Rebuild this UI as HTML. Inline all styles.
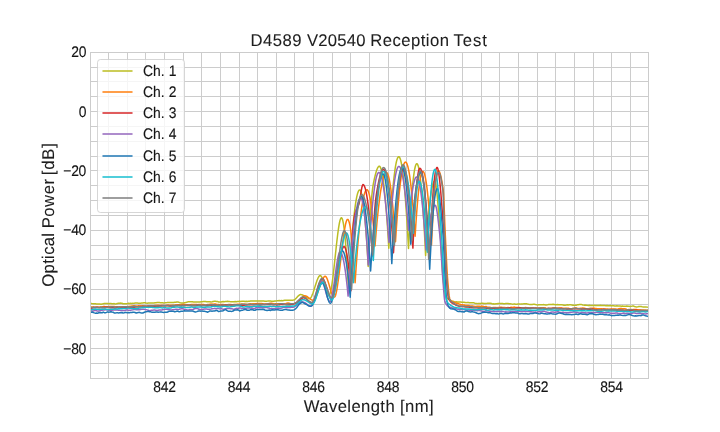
<!DOCTYPE html>
<html lang="en">
<head>
<meta charset="utf-8">
<title>D4589 V20540 Reception Test</title>
<style>
html,body{margin:0;padding:0;background:#ffffff;}
body{width:720px;height:432px;overflow:hidden;position:relative;font-family:"Liberation Sans", Arial, sans-serif;}
svg text{font-kerning:normal;}
</style>
</head>
<body>
<svg width="720" height="432" viewBox="0 0 720 432" style="display:block;position:absolute;left:0;top:0">
<rect x="0" y="0" width="720" height="432" fill="#ffffff"/>
<path d="M108.5 52.5V378.5M127.5 52.5V378.5M145.5 52.5V378.5M164.5 52.5V378.5M183.5 52.5V378.5M201.5 52.5V378.5M220.5 52.5V378.5M239.5 52.5V378.5M257.5 52.5V378.5M276.5 52.5V378.5M294.5 52.5V378.5M313.5 52.5V378.5M332.5 52.5V378.5M350.5 52.5V378.5M369.5 52.5V378.5M388.5 52.5V378.5M406.5 52.5V378.5M425.5 52.5V378.5M444.5 52.5V378.5M462.5 52.5V378.5M481.5 52.5V378.5M499.5 52.5V378.5M518.5 52.5V378.5M537.5 52.5V378.5M555.5 52.5V378.5M574.5 52.5V378.5M593.5 52.5V378.5M611.5 52.5V378.5M630.5 52.5V378.5M90.5 363.5H648.5M90.5 348.5H648.5M90.5 334.5H648.5M90.5 319.5H648.5M90.5 304.5H648.5M90.5 289.5H648.5M90.5 274.5H648.5M90.5 259.5H648.5M90.5 245.5H648.5M90.5 230.5H648.5M90.5 215.5H648.5M90.5 200.5H648.5M90.5 185.5H648.5M90.5 170.5H648.5M90.5 156.5H648.5M90.5 141.5H648.5M90.5 126.5H648.5M90.5 111.5H648.5M90.5 96.5H648.5M90.5 81.5H648.5M90.5 67.5H648.5" stroke="#cccccc" stroke-width="1" fill="none"/>
<clipPath id="c"><rect x="90.0" y="51.84" width="558.0" height="326.15999999999997"/></clipPath>
<g clip-path="url(#c)" fill="none" stroke-width="1.5" stroke-linejoin="round" stroke-linecap="butt">
<path d="M90.00 303.53L91.10 303.37L92.20 303.61L93.30 303.83L94.40 303.82L95.50 303.78L96.60 303.92L97.70 303.93L98.80 303.98L99.90 304.03L101.00 304.17L102.10 304.08L103.20 303.65L104.30 303.46L105.40 303.47L106.50 303.39L107.60 303.57L108.70 303.74L109.80 303.56L110.90 303.59L112.00 303.73L113.10 303.68L114.20 303.61L115.30 303.93L116.40 303.79L117.50 303.45L118.60 303.18L119.70 303.13L120.80 303.12L121.90 303.28L123.00 303.70L124.10 303.76L125.20 303.86L126.30 303.65L127.40 303.64L128.50 303.30L129.60 303.40L130.70 303.32L131.80 303.45L132.90 303.21L134.00 303.38L135.10 303.03L136.20 303.05L137.30 303.08L138.40 303.27L139.50 303.18L140.60 303.22L141.70 303.09L142.80 302.97L143.90 302.82L145.00 302.81L146.10 303.09L147.20 303.22L148.30 303.06L149.40 303.01L150.50 302.92L151.60 302.97L152.70 303.02L153.80 303.10L154.90 302.73L156.00 302.67L157.10 302.61L158.20 302.60L159.30 302.53L160.40 302.74L161.50 302.86L162.60 302.76L163.70 302.96L164.80 302.84L165.90 302.66L167.00 302.61L168.10 302.47L169.20 302.46L170.30 302.54L171.40 302.59L172.50 302.55L173.60 302.49L174.70 302.16L175.80 302.14L176.90 301.94L178.00 302.02L179.10 302.42L180.20 302.81L181.30 302.92L182.40 302.99L183.50 302.92L184.60 302.75L185.70 302.60L186.80 302.22L187.90 301.87L189.00 301.78L190.10 301.78L191.20 301.74L192.30 301.79L193.40 302.04L194.50 302.12L195.60 302.03L196.70 302.04L197.80 302.11L198.90 302.03L200.00 301.91L201.10 301.77L202.20 301.65L203.30 301.51L204.40 301.44L205.50 301.48L206.60 301.76L207.70 301.84L208.80 301.84L209.90 301.77L211.00 301.99L212.10 301.84L213.20 301.53L214.30 301.29L215.40 301.19L216.50 301.41L217.60 301.58L218.70 301.93L219.80 302.00L220.90 301.99L222.00 301.72L223.10 301.61L224.20 301.67L225.30 301.50L226.40 301.41L227.50 301.25L228.60 301.39L229.70 301.54L230.80 301.66L231.90 301.73L233.00 301.63L234.10 301.68L235.20 301.55L236.30 301.67L237.40 301.43L238.50 301.42L239.60 301.17L240.70 301.45L241.80 301.33L242.90 301.32L244.00 301.23L245.10 301.45L246.20 301.26L247.30 301.50L248.40 301.24L249.50 301.22L250.60 301.10L251.70 301.08L252.80 300.94L253.90 301.04L255.00 301.10L256.10 301.03L257.20 301.00L258.30 301.09L259.40 301.04L260.50 301.02L261.60 301.07L262.70 301.08L263.80 301.08L264.90 301.19L266.00 301.16L267.10 301.13L268.20 301.00L269.30 300.93L270.40 301.03L271.50 301.22L272.60 301.35L273.70 301.32L274.80 301.06L275.90 300.96L277.00 300.85L278.10 300.71L279.20 300.57L280.30 300.72L281.40 300.62L282.50 300.66L283.60 300.43L284.70 300.27L285.80 300.31L286.90 300.36L288.00 300.26L289.10 300.24L290.20 300.31L291.30 300.26L292.40 300.23L293.50 300.05L294.00 299.93L294.33 299.79L294.66 299.59L294.99 299.32L295.32 299.01L295.65 298.68L295.98 298.35L296.31 298.02L296.64 297.67L296.97 297.31L297.30 296.94L297.63 296.58L297.96 296.23L298.29 295.92L298.62 295.63L298.95 295.37L299.28 295.11L299.61 294.89L299.94 294.72L300.27 294.60L300.60 294.55L300.80 294.55L300.93 294.57L301.26 294.62L301.59 294.67L301.92 294.75L302.25 294.86L302.58 295.02L302.91 295.20L303.24 295.41L303.57 295.61L303.90 295.81L304.23 296.02L304.56 296.24L304.89 296.43L305.22 296.63L305.55 296.82L305.88 297.05L306.21 297.28L306.54 297.49L306.87 297.69L307.20 297.86L307.53 298.01L307.86 298.16L308.19 298.36L308.52 298.53L308.85 298.68L309.18 298.72L309.50 298.72L309.51 298.72L309.84 298.63L310.17 298.43L310.50 298.13L310.83 297.73L311.16 297.21L311.49 296.56L311.82 295.83L312.15 295.04L312.48 294.25L312.81 293.42L313.14 292.53L313.47 291.57L313.80 290.55L314.13 289.51L314.46 288.45L314.79 287.40L315.12 286.34L315.45 285.28L315.78 284.22L316.11 283.18L316.44 282.18L316.77 281.22L317.10 280.31L317.43 279.46L317.76 278.67L318.09 277.95L318.42 277.31L318.75 276.76L319.08 276.31L319.41 275.96L319.74 275.72L320.07 275.61L320.20 275.60L320.40 275.63L320.73 275.81L321.06 276.13L321.39 276.59L321.72 277.17L322.05 277.86L322.38 278.64L322.71 279.51L323.04 280.46L323.37 281.46L323.70 282.51L324.03 283.60L324.36 284.70L324.69 285.80L325.02 286.89L325.35 287.94L325.68 288.98L326.01 289.96L326.34 290.90L326.67 291.75L327.00 292.52L327.33 293.19L327.66 293.78L327.99 294.35L328.32 294.80L328.65 295.12L328.98 295.19L329.00 295.18L329.31 295.00L329.64 294.51L329.97 293.75L330.30 292.72L330.63 291.45L330.96 289.95L331.29 288.27L331.62 286.37L331.95 284.27L332.28 281.98L332.61 279.50L332.94 276.88L333.27 274.13L333.60 271.29L333.93 268.35L334.26 265.36L334.59 262.31L334.92 259.23L335.25 256.13L335.58 253.04L335.91 249.96L336.24 246.93L336.57 243.95L336.90 241.04L337.23 238.23L337.56 235.52L337.89 232.93L338.22 230.49L338.55 228.21L338.88 226.11L339.21 224.21L339.54 222.51L339.87 221.05L340.20 219.84L340.53 218.89L340.86 218.23L341.19 217.87L341.40 217.80L341.52 217.82L341.85 218.09L342.18 218.68L342.51 219.59L342.84 220.81L343.17 222.35L343.50 224.20L343.83 226.37L344.16 228.86L344.49 231.66L344.82 234.78L345.15 238.22L345.48 241.97L345.81 246.04L346.14 250.43L346.47 255.13L346.80 260.14L347.13 265.48L347.46 271.13L347.79 277.09L348.12 283.37L348.45 290.00L348.50 291.03L348.78 286.02L349.11 280.29L349.44 274.74L349.77 269.37L350.10 264.18L350.43 259.16L350.76 254.32L351.09 249.65L351.42 245.16L351.75 240.84L352.08 236.70L352.41 232.73L352.74 228.94L353.07 225.33L353.40 221.89L353.73 218.63L354.06 215.54L354.39 212.63L354.72 209.89L355.05 207.33L355.38 204.94L355.71 202.73L356.04 200.70L356.37 198.84L356.70 197.15L357.03 195.65L357.36 194.31L357.69 193.16L358.02 192.17L358.35 191.37L358.68 190.74L359.01 190.28L359.34 190.00L359.67 189.90L359.70 189.90L360.00 190.00L360.33 190.32L360.66 190.88L360.99 191.66L361.32 192.68L361.65 193.93L361.98 195.40L362.31 197.11L362.64 199.05L362.97 201.22L363.30 203.62L363.63 206.25L363.96 209.12L364.29 212.21L364.62 215.53L364.95 219.08L365.28 222.87L365.61 226.88L365.94 231.13L366.27 235.60L366.60 240.31L366.93 245.25L367.26 250.42L367.59 255.81L367.92 261.44L368.20 266.40L368.25 264.87L368.58 255.26L368.91 246.40L369.24 238.26L369.57 230.81L369.90 224.02L370.23 217.85L370.56 212.27L370.89 207.24L371.22 202.73L371.55 198.71L371.88 195.13L372.21 191.98L372.54 189.20L372.87 186.78L373.20 184.67L373.53 182.84L373.70 182.00L373.86 181.24L374.19 179.71L374.52 178.23L374.85 176.81L375.18 175.45L375.51 174.16L375.84 172.94L376.17 171.80L376.50 170.76L376.83 169.80L377.16 168.95L377.49 168.19L377.82 167.55L378.15 167.03L378.48 166.63L378.81 166.35L379.14 166.22L379.30 166.20L379.47 166.23L379.80 166.43L380.13 166.83L380.46 167.42L380.79 168.22L381.12 169.21L381.45 170.41L381.78 171.79L382.11 173.38L382.44 175.17L382.77 177.15L383.10 179.34L383.43 181.72L383.76 184.30L384.09 187.07L384.42 190.05L384.75 193.22L385.08 196.59L385.41 200.16L385.74 203.93L386.07 207.89L386.40 212.06L386.73 216.42L387.06 220.98L387.39 225.74L387.72 230.69L388.05 235.85L388.38 241.20L388.71 246.75L388.80 248.30L389.04 243.93L389.37 238.11L389.70 232.48L390.03 227.05L390.36 221.83L390.69 216.81L391.02 211.99L391.35 207.37L391.68 202.95L392.01 198.73L392.34 194.72L392.67 190.90L393.00 187.29L393.33 183.88L393.66 180.67L393.99 177.66L394.32 174.86L394.65 172.25L394.98 169.85L395.31 167.65L395.64 165.65L395.97 163.85L396.30 162.25L396.63 160.86L396.96 159.66L397.29 158.67L397.62 157.88L397.95 157.29L398.28 156.90L398.61 156.72L398.75 156.70L398.94 156.73L399.27 156.96L399.60 157.40L399.93 158.04L400.26 158.90L400.59 159.97L400.92 161.25L401.25 162.74L401.58 164.43L401.91 166.34L402.24 168.46L402.57 170.79L402.90 173.33L403.23 176.08L403.56 179.04L403.89 182.21L404.22 185.59L404.55 189.19L404.88 192.99L405.21 197.00L405.54 201.22L405.87 205.65L406.20 210.30L406.53 215.15L406.86 220.21L407.19 225.49L407.52 230.97L407.85 236.67L408.18 242.57L408.50 248.50L408.51 248.30L408.84 241.69L409.17 235.36L409.50 229.30L409.83 223.50L410.16 217.97L410.49 212.71L410.82 207.72L411.15 202.99L411.48 198.54L411.81 194.35L412.14 190.43L412.47 186.78L412.80 183.40L413.13 180.28L413.46 177.43L413.79 174.85L414.12 172.54L414.45 170.50L414.78 168.72L415.11 167.22L415.44 165.98L415.77 165.01L416.10 164.30L416.43 163.87L416.76 163.70L416.80 163.70L417.09 163.80L417.42 164.16L417.75 164.77L418.08 165.64L418.41 166.77L418.74 168.16L419.07 169.80L419.40 171.70L419.73 173.87L420.06 176.28L420.39 178.96L420.72 181.90L421.05 185.09L421.38 188.54L421.71 192.25L422.04 196.21L422.37 200.44L422.70 204.92L423.03 209.66L423.36 214.66L423.69 219.91L424.02 225.43L424.35 231.20L424.68 237.23L425.01 243.52L425.34 250.06L425.60 255.40L425.67 254.27L426.00 249.07L426.33 244.06L426.66 239.24L426.99 234.62L427.32 230.18L427.65 225.94L427.98 221.89L428.31 218.02L428.64 214.35L428.97 210.88L429.30 207.59L429.63 204.50L429.96 201.59L430.29 198.88L430.62 196.36L430.95 194.03L431.28 191.89L431.61 189.94L431.94 188.19L432.27 186.63L432.60 185.25L432.93 184.07L433.26 183.08L433.59 182.29L433.92 181.68L434.25 181.27L434.58 181.04L434.80 181.00L434.91 181.04L435.24 181.58L435.57 182.74L435.90 184.45L436.23 186.67L436.56 189.33L436.89 192.40L437.22 195.82L437.55 199.54L437.88 203.49L438.21 207.64L438.54 211.93L438.87 216.31L439.20 220.72L439.53 225.11L439.86 229.43L440.19 233.64L440.30 235.00L440.52 237.90L440.85 242.89L441.18 248.41L441.51 254.24L441.84 260.13L442.17 265.85L442.50 271.16L442.83 275.83L443.16 279.61L443.20 280.00L443.49 282.74L443.82 285.78L444.15 288.60L444.48 291.12L444.81 293.22L445.14 294.81L445.47 295.77L445.50 295.82L445.80 296.29L446.13 296.75L446.46 297.18L446.79 297.61L447.12 297.99L447.45 298.33L447.78 298.65L448.11 298.93L448.44 299.19L448.77 299.46L449.10 299.75L449.43 300.03L449.76 300.27L450.00 300.38L450.09 300.42L450.42 300.55L450.75 300.69L451.08 300.78L451.41 300.86L451.74 300.93L453.00 301.14L454.10 301.66L455.20 301.88L456.30 301.87L457.40 301.89L458.50 301.90L459.60 301.98L460.70 301.91L461.80 302.19L462.90 302.23L464.00 302.27L465.10 302.40L466.20 302.63L467.30 302.41L468.40 302.54L469.50 302.72L470.60 302.85L471.70 302.80L472.80 302.87L473.90 302.84L475.00 303.28L476.10 303.52L477.20 303.62L478.30 303.46L479.40 303.54L480.50 303.42L481.60 303.22L482.70 303.18L483.80 303.41L484.90 303.39L486.00 303.39L487.10 303.37L488.20 303.31L489.30 303.23L490.40 303.30L491.50 303.55L492.60 303.90L493.70 303.87L494.80 303.89L495.90 303.79L497.00 303.70L498.10 303.51L499.20 303.55L500.30 303.60L501.40 303.56L502.50 303.52L503.60 303.76L504.70 303.67L505.80 303.53L506.90 303.50L508.00 303.51L509.10 303.74L510.20 303.73L511.30 303.87L512.40 304.14L513.50 304.10L514.60 303.87L515.70 304.24L516.80 304.20L517.90 304.08L519.00 304.04L520.10 304.12L521.20 303.91L522.30 303.89L523.40 303.85L524.50 303.77L525.60 303.81L526.70 303.84L527.80 304.12L528.90 304.31L530.00 304.47L531.10 304.47L532.20 304.50L533.30 304.35L534.40 304.26L535.50 304.56L536.60 304.77L537.70 304.88L538.80 304.77L539.90 304.72L541.00 304.74L542.10 304.80L543.20 304.62L544.30 304.74L545.40 304.89L546.50 304.96L547.60 304.81L548.70 304.61L549.80 304.53L550.90 304.55L552.00 304.48L553.10 304.32L554.20 304.47L555.30 304.65L556.40 304.63L557.50 304.55L558.60 304.65L559.70 304.78L560.80 304.84L561.90 304.87L563.00 304.90L564.10 305.17L565.20 305.15L566.30 305.06L567.40 304.83L568.50 304.93L569.60 304.71L570.70 304.79L571.80 304.91L572.90 305.17L574.00 305.25L575.10 305.34L576.20 305.27L577.30 304.82L578.40 304.69L579.50 304.52L580.60 304.56L581.70 304.62L582.80 304.98L583.90 305.13L585.00 305.10L586.10 305.16L587.20 305.36L588.30 305.46L589.40 305.25L590.50 305.41L591.60 305.49L592.70 305.45L593.80 305.36L594.90 305.47L596.00 305.47L597.10 305.56L598.20 305.48L599.30 305.42L600.40 305.34L601.50 305.58L602.60 305.41L603.70 305.55L604.80 305.50L605.90 305.64L607.00 305.50L608.10 305.84L609.20 305.71L610.30 305.57L611.40 305.84L612.50 305.82L613.60 305.75L614.70 305.93L615.80 305.95L616.90 305.78L618.00 305.92L619.10 306.07L620.20 306.03L621.30 306.15L622.40 306.01L623.50 306.17L624.60 306.30L625.70 306.22L626.80 306.10L627.90 306.30L629.00 306.34L630.10 306.44L631.20 306.37L632.30 306.11L633.40 306.08L634.50 306.44L635.60 306.73L636.70 306.90L637.80 306.79L638.90 306.60L640.00 306.59L641.10 306.61L642.20 306.82L643.30 306.99L644.40 306.93L645.50 307.00L646.60 307.11L647.70 307.13L648.00 307.24" stroke="#bcbd22"/>
<path d="M90.00 307.18L91.10 306.99L92.20 307.00L93.30 306.99L94.40 307.33L95.50 307.28L96.60 307.26L97.70 307.24L98.80 307.34L99.90 306.91L101.00 306.88L102.10 306.76L103.20 306.61L104.30 306.41L105.40 306.66L106.50 306.74L107.60 306.71L108.70 306.70L109.80 306.60L110.90 306.58L112.00 306.39L113.10 306.47L114.20 306.45L115.30 306.67L116.40 306.71L117.50 306.99L118.60 307.08L119.70 306.96L120.80 306.91L121.90 306.88L123.00 306.75L124.10 306.64L125.20 306.73L126.30 306.89L127.40 306.80L128.50 306.54L129.60 306.37L130.70 306.36L131.80 306.07L132.90 306.09L134.00 305.80L135.10 306.06L136.20 306.03L137.30 306.21L138.40 305.82L139.50 306.10L140.60 305.87L141.70 305.92L142.80 305.80L143.90 305.94L145.00 306.10L146.10 306.21L147.20 306.08L148.30 306.02L149.40 306.22L150.50 305.98L151.60 305.99L152.70 305.97L153.80 305.71L154.90 305.36L156.00 305.43L157.10 305.15L158.20 305.13L159.30 305.31L160.40 305.43L161.50 305.36L162.60 305.71L163.70 305.85L164.80 305.87L165.90 305.56L167.00 305.31L168.10 305.05L169.20 305.18L170.30 305.27L171.40 305.32L172.50 305.25L173.60 305.35L174.70 305.30L175.80 305.02L176.90 305.00L178.00 304.86L179.10 304.77L180.20 304.64L181.30 304.71L182.40 304.52L183.50 304.62L184.60 304.57L185.70 304.72L186.80 304.69L187.90 305.06L189.00 305.08L190.10 304.95L191.20 304.57L192.30 304.60L193.40 304.53L194.50 304.49L195.60 304.51L196.70 304.46L197.80 304.74L198.90 304.53L200.00 304.60L201.10 304.54L202.20 304.61L203.30 304.45L204.40 304.81L205.50 304.88L206.60 304.77L207.70 304.59L208.80 304.52L209.90 304.35L211.00 303.97L212.10 304.12L213.20 304.20L214.30 304.08L215.40 304.10L216.50 304.28L217.60 304.38L218.70 304.42L219.80 304.63L220.90 304.58L222.00 304.52L223.10 304.62L224.20 304.72L225.30 304.85L226.40 304.75L227.50 304.63L228.60 304.38L229.70 304.43L230.80 304.53L231.90 304.68L233.00 304.64L234.10 304.48L235.20 304.48L236.30 304.47L237.40 304.20L238.50 304.22L239.60 304.30L240.70 304.18L241.80 304.08L242.90 304.32L244.00 304.26L245.10 304.18L246.20 304.29L247.30 304.51L248.40 304.25L249.50 303.94L250.60 303.81L251.70 303.94L252.80 303.76L253.90 303.72L255.00 303.81L256.10 303.74L257.20 303.59L258.30 303.54L259.40 303.56L260.50 303.46L261.60 303.57L262.70 303.67L263.80 304.14L264.90 303.97L266.00 304.03L267.10 304.06L268.20 304.03L269.30 303.54L270.40 303.31L271.50 303.27L272.60 303.46L273.70 303.74L274.80 303.87L275.90 303.81L277.00 303.63L278.10 303.68L279.20 303.75L280.30 303.78L281.40 303.99L282.50 304.01L283.60 303.95L284.70 303.87L285.80 303.67L286.90 303.16L288.00 302.93L289.10 303.15L290.20 303.47L291.30 303.66L292.40 303.63L293.50 303.75L294.00 303.61L294.33 303.52L294.66 303.42L294.99 303.28L295.32 303.15L295.65 303.01L295.98 302.93L296.00 302.93L296.31 302.84L296.64 302.69L296.97 302.54L297.30 302.39L297.63 302.20L297.96 301.97L298.29 301.71L298.62 301.42L298.95 301.11L299.28 300.79L299.61 300.47L299.94 300.13L300.27 299.82L300.60 299.52L300.93 299.23L301.26 298.91L301.59 298.42L301.92 297.96L302.25 297.50L302.58 297.10L302.91 296.72L303.24 296.37L303.57 296.11L303.90 295.92L304.23 295.78L304.56 295.69L304.89 295.71L305.20 295.77L305.22 295.78L305.55 295.90L305.88 295.98L306.21 296.09L306.54 296.23L306.87 296.42L307.20 296.64L307.53 296.89L307.86 297.15L308.19 297.37L308.52 297.61L308.85 297.86L309.18 298.08L309.51 298.30L309.84 298.51L310.17 298.76L310.50 299.06L310.83 299.34L311.16 299.59L311.49 299.78L311.82 299.93L312.15 300.05L312.48 300.17L312.81 300.26L313.14 300.30L313.20 300.30L313.47 300.23L313.80 300.02L314.13 299.72L314.46 299.35L314.79 299.04L315.12 298.65L315.45 298.19L315.78 297.55L316.11 296.83L316.44 296.05L316.77 295.22L317.10 294.35L317.43 293.44L317.76 292.50L318.09 291.53L318.42 290.55L318.75 289.56L319.08 288.62L319.41 287.67L319.74 286.72L320.07 285.76L320.40 284.79L320.73 283.85L321.06 282.94L321.39 282.07L321.72 281.23L322.05 280.43L322.38 279.68L322.71 278.99L323.04 278.37L323.37 277.82L323.70 277.34L324.03 276.95L324.36 276.64L324.69 276.43L325.02 276.32L325.20 276.30L325.35 276.32L325.68 276.47L326.01 276.78L326.34 277.23L326.67 277.81L327.00 278.50L327.33 279.30L327.66 280.19L327.99 281.15L328.32 282.18L328.65 283.27L328.98 284.40L329.31 285.55L329.64 286.71L329.97 287.87L330.30 289.00L330.63 290.11L330.96 291.17L331.29 292.14L331.62 293.05L331.95 293.87L332.28 294.67L332.61 295.38L332.94 296.00L333.27 296.50L333.60 296.86L333.93 297.07L334.20 297.12L334.26 297.14L334.59 297.07L334.92 296.74L335.25 296.15L335.58 295.23L335.91 294.07L336.24 292.68L336.57 291.07L336.90 289.26L337.23 287.30L337.56 285.20L337.89 282.99L338.22 280.63L338.55 278.15L338.88 275.57L339.21 272.91L339.54 270.18L339.87 267.38L340.20 264.55L340.53 261.68L340.86 258.80L341.19 255.92L341.52 253.05L341.85 250.20L342.18 247.40L342.51 244.65L342.84 241.96L343.17 239.36L343.50 236.86L343.83 234.47L344.16 232.20L344.49 230.07L344.82 228.09L345.15 226.28L345.48 224.65L345.81 223.21L346.14 221.98L346.47 220.97L346.80 220.20L347.13 219.68L347.46 219.43L347.60 219.40L347.79 219.44L348.12 219.70L348.45 220.21L348.78 220.97L349.11 221.97L349.44 223.22L349.77 224.71L350.10 226.44L350.43 228.43L350.76 230.65L351.09 233.13L351.42 235.85L351.75 238.81L352.08 242.02L352.41 245.48L352.74 249.18L353.07 253.12L353.40 257.32L353.73 261.75L354.06 266.44L354.39 271.36L354.72 276.54L355.05 281.96L355.10 282.81L355.38 278.43L355.71 273.42L356.04 268.56L356.37 263.84L356.70 259.26L357.03 254.84L357.36 250.55L357.69 246.42L358.02 242.42L358.35 238.58L358.68 234.88L359.01 231.32L359.34 227.91L359.67 224.65L360.00 221.53L360.33 218.56L360.66 215.73L360.99 213.05L361.32 210.52L361.65 208.13L361.98 205.89L362.31 203.79L362.64 201.83L362.97 200.03L363.30 198.37L363.63 196.85L363.96 195.48L364.29 194.25L364.62 193.18L364.95 192.24L365.28 191.45L365.61 190.81L365.94 190.32L366.27 189.97L366.60 189.76L366.90 189.70L366.93 189.70L367.26 189.81L367.59 190.11L367.92 190.59L368.25 191.26L368.58 192.12L368.91 193.17L369.24 194.40L369.57 195.82L369.90 197.42L370.23 199.22L370.56 201.19L370.89 203.36L371.22 205.71L371.55 208.25L371.88 210.98L372.21 213.90L372.54 217.00L372.87 220.28L373.20 223.76L373.53 227.42L373.86 231.27L374.19 235.30L374.52 239.53L374.85 243.93L375.00 246.00L375.18 243.70L375.51 239.57L375.84 235.57L376.17 231.69L376.50 227.93L376.83 224.30L377.16 220.79L377.49 217.40L377.82 214.13L378.15 210.99L378.48 207.98L378.81 205.08L379.14 202.31L379.47 199.66L379.80 197.14L380.13 194.73L380.46 192.45L380.79 190.30L381.12 188.27L381.45 186.36L381.78 184.57L382.11 182.91L382.44 181.37L382.77 179.95L383.10 178.66L383.43 177.49L383.76 176.44L384.09 175.52L384.42 174.72L384.75 174.04L385.08 173.49L385.41 173.05L385.74 172.75L386.07 172.56L386.40 172.50L386.40 172.50L386.73 172.59L387.06 172.86L387.39 173.32L387.72 173.96L388.05 174.78L388.38 175.78L388.71 176.96L389.04 178.32L389.37 179.87L389.70 181.60L390.03 183.51L390.36 185.60L390.69 187.88L391.02 190.34L391.35 192.98L391.68 195.80L392.01 198.80L392.34 201.98L392.67 205.35L393.00 208.90L393.33 212.63L393.66 216.54L393.99 220.64L394.32 224.92L394.65 229.38L394.98 234.02L395.31 238.84L395.50 241.70L395.64 239.49L395.97 234.39L396.30 229.47L396.63 224.73L396.96 220.15L397.29 215.75L397.62 211.53L397.95 207.47L398.28 203.59L398.61 199.89L398.94 196.35L399.27 193.00L399.60 189.81L399.93 186.80L400.26 183.96L400.59 181.29L400.92 178.80L401.25 176.48L401.58 174.33L401.91 172.36L402.24 170.56L402.57 168.93L402.90 167.48L403.23 166.20L403.56 165.10L403.89 164.16L404.22 163.40L404.55 162.82L404.88 162.41L405.21 162.17L405.50 162.10L405.54 162.10L405.87 162.21L406.20 162.49L406.53 162.95L406.86 163.59L407.19 164.40L407.52 165.39L407.85 166.55L408.18 167.88L408.51 169.39L408.84 171.08L409.17 172.94L409.50 174.98L409.83 177.20L410.16 179.58L410.49 182.15L410.82 184.89L411.15 187.80L411.48 190.89L411.81 194.16L412.14 197.60L412.47 201.21L412.80 205.00L413.13 208.97L413.46 213.11L413.79 217.43L414.12 221.92L414.45 226.59L414.78 231.44L415.10 236.30L415.11 236.13L415.44 230.77L415.77 225.65L416.10 220.75L416.43 216.09L416.76 211.65L417.09 207.45L417.42 203.49L417.75 199.75L418.08 196.24L418.41 192.97L418.74 189.93L419.07 187.12L419.40 184.55L419.73 182.20L420.06 180.09L420.39 178.21L420.72 176.56L421.05 175.15L421.38 173.96L421.71 173.01L422.04 172.29L422.37 171.80L422.70 171.54L422.90 171.50L423.03 171.52L423.36 171.71L423.69 172.12L424.02 172.75L424.35 173.59L424.68 174.65L425.01 175.92L425.34 177.42L425.67 179.13L426.00 181.05L426.33 183.19L426.66 185.55L426.99 188.12L427.32 190.91L427.65 193.92L427.98 197.15L428.31 200.59L428.64 204.24L428.97 208.12L429.30 212.21L429.63 216.51L429.96 221.03L430.29 225.77L430.62 230.73L430.95 235.90L431.28 241.29L431.50 245.00L431.61 242.61L431.94 235.68L432.27 229.10L432.60 222.88L432.93 217.00L433.26 211.47L433.59 206.29L433.92 201.47L434.25 196.99L434.58 192.87L434.91 189.09L435.24 185.67L435.57 182.59L435.90 179.87L436.23 177.49L436.56 175.47L436.89 173.80L437.22 172.48L437.55 171.51L437.88 170.88L438.21 170.61L438.30 170.60L438.54 170.65L438.87 170.90L439.20 171.33L439.53 171.95L439.86 172.76L440.19 173.74L440.52 174.89L440.85 176.21L441.18 177.69L441.51 179.33L441.84 181.12L442.17 183.06L442.50 185.14L442.83 187.36L443.16 189.71L443.20 190.00L443.49 193.23L443.82 199.13L444.15 206.68L444.48 215.11L444.81 223.67L445.14 231.60L445.30 235.00L445.47 238.45L445.80 245.36L446.13 252.34L446.46 259.19L446.79 265.69L447.12 271.62L447.45 276.76L447.70 280.00L447.78 280.94L448.11 284.84L448.44 288.66L448.77 292.17L449.10 295.16L449.43 297.50L449.76 299.03L450.00 299.58L450.09 299.68L450.42 300.01L450.75 300.30L451.08 300.65L451.41 300.98L451.74 301.28L453.00 301.88L454.10 302.11L455.20 302.52L456.30 303.19L457.40 303.29L458.50 303.68L459.60 304.08L460.70 304.52L461.80 304.66L462.90 304.86L464.00 304.93L465.10 305.27L466.20 305.48L467.30 305.45L468.40 305.41L469.50 305.73L470.60 305.95L471.70 306.02L472.80 306.10L473.90 306.37L475.00 306.39L476.10 306.58L477.20 306.35L478.30 306.33L479.40 306.33L480.50 306.46L481.60 306.18L482.70 306.32L483.80 306.55L484.90 306.69L486.00 306.56L487.10 306.91L488.20 307.17L489.30 307.29L490.40 307.37L491.50 307.65L492.60 307.62L493.70 307.52L494.80 307.49L495.90 307.54L497.00 307.74L498.10 307.61L499.20 307.46L500.30 307.28L501.40 307.31L502.50 307.50L503.60 307.46L504.70 307.48L505.80 307.80L506.90 307.79L508.00 307.58L509.10 307.70L510.20 307.57L511.30 307.31L512.40 307.41L513.50 307.21L514.60 307.12L515.70 307.37L516.80 307.54L517.90 307.58L519.00 307.53L520.10 307.72L521.20 307.72L522.30 307.82L523.40 307.70L524.50 307.73L525.60 307.48L526.70 307.65L527.80 307.74L528.90 308.04L530.00 308.24L531.10 308.49L532.20 308.29L533.30 308.33L534.40 308.25L535.50 308.05L536.60 308.01L537.70 308.10L538.80 308.09L539.90 308.04L541.00 307.70L542.10 307.74L543.20 307.69L544.30 307.94L545.40 308.07L546.50 308.44L547.60 308.44L548.70 308.52L549.80 308.69L550.90 308.60L552.00 308.37L553.10 308.02L554.20 308.07L555.30 307.67L556.40 307.91L557.50 308.12L558.60 308.01L559.70 307.93L560.80 308.06L561.90 308.18L563.00 308.14L564.10 308.19L565.20 308.18L566.30 308.24L567.40 308.21L568.50 308.30L569.60 308.69L570.70 308.89L571.80 308.76L572.90 308.47L574.00 308.26L575.10 308.11L576.20 308.03L577.30 308.55L578.40 308.58L579.50 308.55L580.60 308.19L581.70 308.22L582.80 307.89L583.90 308.17L585.00 308.36L586.10 308.63L587.20 308.69L588.30 308.71L589.40 308.49L590.50 308.29L591.60 308.19L592.70 308.29L593.80 308.25L594.90 308.37L596.00 308.56L597.10 308.78L598.20 308.80L599.30 308.80L600.40 308.78L601.50 308.79L602.60 308.91L603.70 309.01L604.80 309.18L605.90 309.06L607.00 309.02L608.10 309.11L609.20 309.14L610.30 309.05L611.40 309.03L612.50 309.11L613.60 309.04L614.70 308.93L615.80 308.99L616.90 309.14L618.00 309.04L619.10 308.72L620.20 308.59L621.30 308.57L622.40 308.73L623.50 308.78L624.60 308.70L625.70 309.01L626.80 309.38L627.90 309.70L629.00 309.56L630.10 309.59L631.20 309.56L632.30 309.76L633.40 309.47L634.50 309.48L635.60 309.39L636.70 309.61L637.80 309.67L638.90 309.99L640.00 309.81L641.10 309.94L642.20 309.97L643.30 309.99L644.40 309.96L645.50 310.15L646.60 310.24L647.70 310.14L648.00 310.05" stroke="#ff7f0e"/>
<path d="M90.00 308.24L91.10 308.19L92.20 307.97L93.30 307.53L94.40 307.66L95.50 307.60L96.60 307.25L97.70 307.23L98.80 307.66L99.90 307.57L101.00 307.45L102.10 307.80L103.20 307.43L104.30 307.18L105.40 307.27L106.50 307.23L107.60 307.21L108.70 307.37L109.80 307.66L110.90 307.72L112.00 307.79L113.10 307.58L114.20 308.00L115.30 307.98L116.40 307.72L117.50 307.25L118.60 307.42L119.70 307.23L120.80 307.40L121.90 307.26L123.00 307.38L124.10 307.57L125.20 307.38L126.30 307.53L127.40 307.85L128.50 307.65L129.60 307.47L130.70 307.46L131.80 307.41L132.90 307.31L134.00 307.33L135.10 306.96L136.20 306.77L137.30 306.73L138.40 306.79L139.50 306.61L140.60 306.57L141.70 306.53L142.80 306.51L143.90 306.37L145.00 306.50L146.10 306.46L147.20 306.40L148.30 306.30L149.40 306.28L150.50 306.17L151.60 306.28L152.70 306.33L153.80 306.21L154.90 306.41L156.00 306.48L157.10 306.52L158.20 306.16L159.30 306.03L160.40 305.70L161.50 305.83L162.60 305.60L163.70 305.50L164.80 305.62L165.90 305.83L167.00 305.86L168.10 305.85L169.20 305.91L170.30 305.96L171.40 305.98L172.50 306.07L173.60 306.13L174.70 305.91L175.80 305.48L176.90 305.57L178.00 305.45L179.10 305.48L180.20 305.67L181.30 305.67L182.40 305.52L183.50 305.43L184.60 305.54L185.70 305.41L186.80 305.41L187.90 305.27L189.00 305.39L190.10 305.25L191.20 305.79L192.30 305.84L193.40 305.84L194.50 305.62L195.60 305.70L196.70 305.23L197.80 305.13L198.90 305.20L200.00 305.61L201.10 305.72L202.20 305.61L203.30 305.59L204.40 305.54L205.50 305.72L206.60 305.73L207.70 305.69L208.80 305.40L209.90 305.37L211.00 305.22L212.10 305.28L213.20 305.13L214.30 305.25L215.40 305.31L216.50 305.64L217.60 305.63L218.70 305.49L219.80 305.47L220.90 305.48L222.00 305.20L223.10 305.35L224.20 305.41L225.30 305.11L226.40 304.89L227.50 304.86L228.60 304.77L229.70 304.82L230.80 304.93L231.90 305.07L233.00 304.87L234.10 304.86L235.20 304.98L236.30 305.07L237.40 304.81L238.50 304.88L239.60 305.16L240.70 305.36L241.80 305.36L242.90 305.23L244.00 305.14L245.10 304.99L246.20 304.92L247.30 304.83L248.40 304.76L249.50 304.59L250.60 304.66L251.70 304.78L252.80 304.75L253.90 304.70L255.00 304.61L256.10 304.43L257.20 304.41L258.30 304.85L259.40 305.00L260.50 304.88L261.60 304.83L262.70 304.59L263.80 304.58L264.90 304.57L266.00 304.51L267.10 304.44L268.20 304.55L269.30 304.48L270.40 304.41L271.50 304.48L272.60 304.68L273.70 304.71L274.80 304.80L275.90 304.83L277.00 304.95L278.10 304.85L279.20 304.75L280.30 304.45L281.40 304.37L282.50 304.45L283.60 304.51L284.70 304.51L285.80 304.52L286.90 304.76L288.00 304.62L289.10 304.76L290.20 304.66L291.30 304.49L292.40 304.19L293.50 303.98L294.00 303.86L294.33 303.75L294.66 303.63L294.99 303.61L295.32 303.54L295.65 303.45L295.98 303.27L296.31 303.06L296.64 302.82L296.97 302.56L297.30 302.27L297.63 301.98L297.96 301.67L298.29 301.35L298.62 301.03L298.95 300.70L299.28 300.39L299.61 300.08L299.94 299.78L300.27 299.45L300.60 299.09L300.93 298.74L301.26 298.45L301.59 298.31L301.92 298.20L302.25 298.12L302.58 297.97L302.91 297.84L303.24 297.74L303.50 297.72L303.57 297.72L303.90 297.77L304.23 297.86L304.56 297.98L304.89 298.11L305.22 298.27L305.55 298.45L305.88 298.70L306.21 298.97L306.54 299.26L306.87 299.56L307.20 299.87L307.53 300.19L307.86 300.49L308.19 300.72L308.52 300.94L308.85 301.15L309.18 301.41L309.51 301.68L309.84 301.92L310.17 302.17L310.50 302.43L310.83 302.66L311.16 302.86L311.49 303.03L311.82 303.15L312.00 303.21L312.15 303.23L312.48 302.98L312.81 302.57L313.14 302.03L313.47 301.46L313.80 300.85L314.13 300.15L314.46 299.36L314.79 298.46L315.12 297.49L315.45 296.46L315.78 295.49L316.11 294.49L316.44 293.44L316.77 292.30L317.10 291.09L317.43 289.89L317.76 288.71L318.09 287.58L318.42 286.47L318.75 285.41L319.08 284.39L319.41 283.43L319.74 282.53L320.07 281.70L320.40 280.94L320.73 280.27L321.06 279.70L321.39 279.24L321.72 278.90L322.05 278.68L322.38 278.60L322.40 278.60L322.71 278.67L323.04 278.88L323.37 279.23L323.70 279.70L324.03 280.29L324.36 280.97L324.69 281.75L325.02 282.60L325.35 283.52L325.68 284.48L326.01 285.48L326.34 286.49L326.67 287.53L327.00 288.58L327.33 289.63L327.66 290.68L327.99 291.78L328.32 292.87L328.65 293.94L328.98 294.89L329.31 295.77L329.64 296.57L329.97 297.20L330.30 297.66L330.63 298.01L330.96 298.24L331.29 298.40L331.50 298.43L331.62 298.41L331.95 298.22L332.28 297.91L332.61 297.42L332.94 296.74L333.27 295.84L333.60 294.70L333.93 293.43L334.26 292.04L334.59 290.54L334.92 288.94L335.25 287.25L335.58 285.50L335.91 283.68L336.24 281.77L336.57 279.81L336.90 277.81L337.23 275.78L337.56 273.73L337.89 271.68L338.22 269.63L338.55 267.59L338.88 265.59L339.21 263.62L339.54 261.71L339.87 259.85L340.20 258.07L340.53 256.38L340.86 254.78L341.19 253.29L341.52 251.92L341.85 250.68L342.18 249.58L342.51 248.64L342.84 247.86L343.17 247.26L343.50 246.84L343.83 246.63L344.00 246.60L344.16 246.62L344.49 246.82L344.82 247.23L345.15 247.83L345.48 248.64L345.81 249.66L346.14 250.87L346.47 252.29L346.80 253.91L347.13 255.74L347.46 257.76L347.79 260.00L348.12 262.43L348.45 265.07L348.78 267.91L349.11 270.95L349.44 274.20L349.77 277.65L350.10 281.30L350.43 285.09L350.76 289.02L350.90 290.76L351.09 281.54L351.42 267.29L351.75 255.53L352.08 245.97L352.41 238.33L352.74 232.31L353.07 227.62L353.40 223.95L353.50 223.00L353.73 221.01L354.06 218.58L354.39 216.58L354.72 214.92L355.05 213.55L355.20 213.00L355.38 212.39L355.71 211.40L356.04 210.54L356.37 209.80L356.70 209.13L357.03 208.50L357.36 207.88L357.69 207.24L358.02 206.55L358.35 205.77L358.68 204.86L358.80 204.50L359.01 203.76L359.34 202.32L359.67 200.58L360.00 198.64L360.33 196.57L360.66 194.44L360.99 192.34L361.32 190.34L361.65 188.53L361.98 186.96L362.31 185.74L362.64 184.93L362.97 184.60L363.00 184.60L363.30 184.67L363.63 184.91L363.96 185.31L364.29 185.89L364.62 186.63L364.95 187.55L365.28 188.63L365.61 189.88L365.94 191.30L366.27 192.88L366.60 194.64L366.93 196.57L367.26 198.66L367.59 200.92L367.92 203.35L368.25 205.95L368.58 208.72L368.91 211.66L369.24 214.77L369.57 218.04L369.90 221.49L370.23 225.10L370.56 228.88L370.89 232.83L371.22 236.95L371.55 241.24L371.88 245.69L372.21 250.32L372.54 255.11L372.60 256.00L372.87 247.88L373.20 238.98L373.53 231.11L373.86 224.20L374.19 218.16L374.52 212.92L374.85 208.39L375.18 204.50L375.51 201.15L375.84 198.28L376.17 195.79L376.50 193.61L376.60 193.00L376.83 191.63L377.16 189.71L377.49 187.85L377.82 186.05L378.15 184.32L378.48 182.66L378.81 181.08L379.14 179.58L379.47 178.17L379.80 176.84L380.13 175.61L380.46 174.48L380.79 173.45L381.12 172.52L381.45 171.71L381.78 171.01L382.11 170.43L382.44 169.98L382.77 169.65L383.10 169.46L383.40 169.40L383.43 169.40L383.76 169.51L384.09 169.79L384.42 170.25L384.75 170.89L385.08 171.71L385.41 172.70L385.74 173.88L386.07 175.23L386.40 176.76L386.73 178.47L387.06 180.35L387.39 182.42L387.72 184.66L388.05 187.08L388.38 189.68L388.71 192.45L389.04 195.41L389.37 198.54L389.70 201.85L390.03 205.34L390.36 209.00L390.69 212.85L391.02 216.87L391.35 221.07L391.68 225.45L392.01 230.01L392.34 234.74L392.67 239.66L393.00 244.75L393.33 250.02L393.50 252.80L393.66 250.10L393.99 244.68L394.32 239.45L394.65 234.40L394.98 229.53L395.31 224.86L395.64 220.37L395.97 216.07L396.30 211.96L396.63 208.03L396.96 204.29L397.29 200.73L397.62 197.37L397.95 194.19L398.28 191.19L398.61 188.39L398.94 185.77L399.27 183.34L399.60 181.09L399.93 179.03L400.26 177.16L400.59 175.48L400.92 173.98L401.25 172.67L401.58 171.54L401.91 170.61L402.24 169.85L402.57 169.29L402.90 168.91L403.23 168.72L403.40 168.70L403.56 168.72L403.89 168.91L404.22 169.29L404.55 169.86L404.88 170.63L405.21 171.58L405.54 172.73L405.87 174.07L406.20 175.60L406.53 177.32L406.86 179.23L407.19 181.34L407.52 183.63L407.85 186.12L408.18 188.80L408.51 191.67L408.84 194.74L409.17 197.99L409.50 201.44L409.83 205.07L410.16 208.90L410.49 212.92L410.82 217.14L411.15 221.54L411.48 226.14L411.81 230.93L412.14 235.90L412.47 241.07L412.80 246.44L412.90 248.10L413.13 242.94L413.46 235.84L413.79 229.10L414.12 222.71L414.45 216.67L414.78 210.99L415.11 205.67L415.44 200.69L415.77 196.08L416.10 191.82L416.43 187.91L416.76 184.36L417.09 181.16L417.42 178.32L417.75 175.83L418.08 173.69L418.41 171.92L418.74 170.49L419.07 169.42L419.40 168.71L419.73 168.35L419.90 168.30L420.06 168.32L420.39 168.53L420.72 168.95L421.05 169.59L421.38 170.43L421.71 171.49L422.04 172.76L422.37 174.24L422.70 175.93L423.03 177.84L423.36 179.95L423.69 182.28L424.02 184.82L424.35 187.57L424.68 190.54L425.01 193.72L425.34 197.10L425.67 200.70L426.00 204.52L426.33 208.54L426.66 212.78L426.99 217.23L427.32 221.89L427.65 226.76L427.98 231.84L428.31 237.14L428.64 242.65L428.97 248.37L429.30 254.30L429.50 258.00L429.63 254.93L429.96 247.38L430.29 240.16L430.62 233.29L430.95 226.76L431.28 220.57L431.61 214.72L431.94 209.22L432.27 204.05L432.60 199.23L432.93 194.75L433.26 190.60L433.59 186.80L433.92 183.34L434.25 180.23L434.58 177.45L434.91 175.01L435.24 172.92L435.57 171.17L435.90 169.76L436.23 168.69L436.56 167.96L436.89 167.57L437.10 167.50L437.22 167.53L437.55 167.96L437.88 168.85L438.21 170.19L438.54 171.93L438.87 174.06L439.20 176.54L439.53 179.35L439.86 182.46L440.19 185.83L440.52 189.45L440.85 193.28L441.18 197.29L441.51 201.46L441.84 205.75L442.17 210.14L442.50 214.61L442.83 219.11L443.16 223.63L443.49 228.14L443.82 232.60L444.00 235.00L444.15 237.13L444.48 242.62L444.81 248.93L445.14 255.67L445.47 262.47L445.80 268.97L446.13 274.77L446.46 279.52L446.50 280.00L446.79 283.45L447.12 287.28L447.45 290.82L447.78 293.90L448.11 296.32L448.44 297.86L448.50 298.03L448.77 298.66L449.10 299.33L449.43 299.93L449.76 300.48L450.09 301.00L450.42 301.48L450.75 301.90L451.08 302.26L451.41 302.58L451.74 302.86L453.00 303.43L454.10 304.07L455.20 304.66L456.30 305.32L457.40 305.57L458.50 306.12L459.60 306.25L460.70 306.28L461.80 306.49L462.90 306.60L464.00 306.59L465.10 306.72L466.20 306.91L467.30 306.97L468.40 307.07L469.50 307.32L470.60 307.53L471.70 307.82L472.80 307.73L473.90 307.77L475.00 307.81L476.10 307.72L477.20 307.72L478.30 307.91L479.40 307.92L480.50 307.69L481.60 307.67L482.70 307.74L483.80 307.82L484.90 307.98L486.00 308.13L487.10 308.18L488.20 308.46L489.30 308.64L490.40 308.47L491.50 308.37L492.60 308.30L493.70 308.29L494.80 308.54L495.90 308.59L497.00 308.44L498.10 308.55L499.20 308.31L500.30 307.96L501.40 307.81L502.50 308.07L503.60 308.23L504.70 308.39L505.80 308.30L506.90 308.05L508.00 308.04L509.10 307.86L510.20 307.95L511.30 308.12L512.40 308.50L513.50 308.45L514.60 308.52L515.70 308.26L516.80 308.04L517.90 307.94L519.00 307.84L520.10 307.72L521.20 308.03L522.30 308.07L523.40 308.24L524.50 308.09L525.60 308.14L526.70 307.90L527.80 308.13L528.90 308.16L530.00 308.19L531.10 308.00L532.20 307.88L533.30 308.01L534.40 308.16L535.50 308.29L536.60 308.48L537.70 308.76L538.80 308.62L539.90 308.64L541.00 308.67L542.10 308.81L543.20 308.56L544.30 308.52L545.40 308.60L546.50 308.67L547.60 308.61L548.70 308.52L549.80 308.49L550.90 308.31L552.00 308.47L553.10 308.35L554.20 308.46L555.30 308.30L556.40 308.63L557.50 308.68L558.60 308.80L559.70 308.51L560.80 308.38L561.90 308.37L563.00 308.71L564.10 308.70L565.20 308.77L566.30 308.94L567.40 309.24L568.50 309.02L569.60 308.91L570.70 308.90L571.80 308.91L572.90 308.79L574.00 308.85L575.10 308.71L576.20 308.62L577.30 308.80L578.40 308.79L579.50 308.83L580.60 308.89L581.70 309.18L582.80 308.95L583.90 308.91L585.00 308.88L586.10 309.00L587.20 309.21L588.30 309.52L589.40 309.57L590.50 309.47L591.60 309.35L592.70 309.04L593.80 309.36L594.90 309.67L596.00 309.75L597.10 309.68L598.20 309.75L599.30 309.79L600.40 309.76L601.50 309.64L602.60 309.39L603.70 309.36L604.80 309.34L605.90 309.67L607.00 309.76L608.10 309.79L609.20 309.74L610.30 309.75L611.40 309.56L612.50 309.67L613.60 309.62L614.70 309.93L615.80 309.97L616.90 310.20L618.00 310.05L619.10 309.98L620.20 310.00L621.30 310.17L622.40 310.35L623.50 310.33L624.60 310.47L625.70 310.39L626.80 310.63L627.90 310.68L629.00 310.58L630.10 310.24L631.20 310.32L632.30 310.30L633.40 310.17L634.50 310.15L635.60 310.24L636.70 310.30L637.80 310.45L638.90 310.57L640.00 310.69L641.10 310.85L642.20 310.83L643.30 310.75L644.40 310.74L645.50 310.66L646.60 310.65L647.70 310.84L648.00 311.04" stroke="#d62728"/>
<path d="M90.00 311.00L91.10 311.05L92.20 311.03L93.30 311.09L94.40 310.50L95.50 310.62L96.60 310.80L97.70 311.16L98.80 310.97L99.90 310.85L101.00 310.52L102.10 310.13L103.20 310.03L104.30 309.91L105.40 309.76L106.50 309.73L107.60 310.10L108.70 310.14L109.80 310.40L110.90 310.46L112.00 310.35L113.10 310.02L114.20 309.95L115.30 309.94L116.40 310.10L117.50 310.04L118.60 310.28L119.70 310.25L120.80 310.64L121.90 310.40L123.00 310.60L124.10 310.58L125.20 310.46L126.30 310.05L127.40 310.00L128.50 310.19L129.60 310.35L130.70 310.24L131.80 309.88L132.90 309.79L134.00 309.62L135.10 309.61L136.20 309.72L137.30 309.80L138.40 309.78L139.50 309.73L140.60 309.62L141.70 309.39L142.80 309.14L143.90 309.17L145.00 309.58L146.10 309.70L147.20 309.88L148.30 310.30L149.40 310.77L150.50 310.50L151.60 310.34L152.70 310.24L153.80 310.12L154.90 309.98L156.00 310.34L157.10 310.55L158.20 310.27L159.30 310.08L160.40 310.11L161.50 310.11L162.60 309.77L163.70 309.45L164.80 309.16L165.90 309.22L167.00 309.38L168.10 309.30L169.20 309.42L170.30 309.78L171.40 309.90L172.50 309.65L173.60 309.62L174.70 309.38L175.80 309.30L176.90 309.36L178.00 309.57L179.10 309.30L180.20 308.92L181.30 308.87L182.40 308.80L183.50 309.04L184.60 309.19L185.70 309.57L186.80 309.80L187.90 310.00L189.00 309.81L190.10 309.54L191.20 309.58L192.30 309.67L193.40 309.23L194.50 308.73L195.60 308.54L196.70 308.39L197.80 308.54L198.90 309.31L200.00 309.54L201.10 309.39L202.20 309.20L203.30 309.17L204.40 308.95L205.50 309.02L206.60 309.11L207.70 309.22L208.80 309.17L209.90 309.14L211.00 309.03L212.10 308.78L213.20 308.64L214.30 308.36L215.40 308.77L216.50 308.64L217.60 308.56L218.70 308.61L219.80 308.89L220.90 308.55L222.00 308.86L223.10 309.26L224.20 309.14L225.30 308.74L226.40 308.64L227.50 308.57L228.60 308.52L229.70 308.60L230.80 308.67L231.90 308.66L233.00 309.16L234.10 309.33L235.20 308.78L236.30 308.32L237.40 308.47L238.50 308.22L239.60 308.07L240.70 308.12L241.80 308.36L242.90 308.32L244.00 308.46L245.10 308.39L246.20 308.33L247.30 308.08L248.40 307.94L249.50 307.84L250.60 308.15L251.70 308.04L252.80 308.30L253.90 308.42L255.00 308.27L256.10 307.76L257.20 307.68L258.30 307.63L259.40 307.68L260.50 307.76L261.60 307.79L262.70 307.83L263.80 307.75L264.90 307.49L266.00 307.50L267.10 307.60L268.20 307.92L269.30 308.09L270.40 308.66L271.50 308.50L272.60 308.75L273.70 308.64L274.80 308.74L275.90 308.19L277.00 308.24L278.10 307.98L279.20 308.25L280.30 308.13L281.40 308.16L282.50 307.81L283.60 307.33L284.70 307.21L285.80 307.54L286.90 307.73L288.00 307.45L289.10 307.49L290.20 307.50L291.30 307.34L292.40 307.12L293.50 307.18L294.00 306.94L294.33 306.74L294.66 306.53L294.99 306.36L295.32 306.18L295.65 305.98L295.98 305.77L296.31 305.56L296.64 305.34L296.97 305.06L297.30 304.75L297.63 304.43L297.96 304.12L298.29 303.80L298.62 303.50L298.95 303.20L299.28 302.93L299.61 302.67L299.94 302.44L300.27 302.24L300.60 302.08L300.93 301.95L301.26 301.84L301.59 301.79L301.92 301.77L302.25 301.78L302.40 301.81L302.58 301.86L302.91 301.98L303.24 302.13L303.57 302.25L303.90 302.34L304.23 302.46L304.56 302.60L304.89 302.76L305.22 302.94L305.55 303.13L305.88 303.37L306.21 303.62L306.54 303.88L306.87 304.13L307.20 304.35L307.53 304.58L307.86 304.80L308.19 305.04L308.52 305.27L308.85 305.48L309.18 305.63L309.51 305.74L309.84 305.83L310.17 305.92L310.50 306.01L310.80 306.06L310.83 306.06L311.16 305.99L311.49 305.71L311.82 305.29L312.15 304.75L312.48 304.19L312.81 303.54L313.14 302.79L313.47 301.90L313.80 300.87L314.13 299.78L314.46 298.66L314.79 297.58L315.12 296.47L315.45 295.33L315.78 294.23L316.11 293.11L316.44 291.99L316.77 290.84L317.10 289.70L317.43 288.58L317.76 287.51L318.09 286.49L318.42 285.53L318.75 284.64L319.08 283.84L319.41 283.12L319.74 282.49L320.07 281.95L320.40 281.52L320.73 281.21L321.06 281.04L321.30 281.00L321.39 281.01L321.72 281.14L322.05 281.43L322.38 281.86L322.71 282.44L323.04 283.16L323.37 283.99L323.70 284.89L324.03 285.87L324.36 286.91L324.69 288.03L325.02 289.18L325.35 290.36L325.68 291.56L326.01 292.76L326.34 293.95L326.67 295.09L327.00 296.17L327.33 297.17L327.66 298.09L327.99 298.89L328.32 299.60L328.65 300.21L328.98 300.76L329.31 301.20L329.64 301.49L329.97 301.59L330.00 301.59L330.30 301.43L330.63 300.96L330.96 300.20L331.29 299.14L331.62 297.85L331.95 296.33L332.28 294.71L332.61 292.93L332.94 290.99L333.27 288.92L333.60 286.73L333.93 284.44L334.26 282.08L334.59 279.68L334.92 277.24L335.25 274.80L335.58 272.38L335.91 269.99L336.24 267.67L336.57 265.42L336.90 263.28L337.23 261.25L337.56 259.37L337.89 257.66L338.22 256.13L338.55 254.81L338.88 253.72L339.21 252.87L339.54 252.30L339.87 252.02L340.00 252.00L340.20 252.03L340.53 252.19L340.86 252.50L341.19 252.95L341.52 253.55L341.85 254.30L342.18 255.19L342.51 256.23L342.84 257.42L343.17 258.75L343.50 260.23L343.83 261.86L344.16 263.63L344.49 265.55L344.82 267.62L345.15 269.83L345.48 272.19L345.81 274.69L346.14 277.34L346.47 280.14L346.80 283.09L347.13 286.20L347.46 289.46L347.79 292.83L348.10 296.12L348.12 295.80L348.45 290.71L348.78 285.77L349.11 281.00L349.44 276.34L349.77 271.82L350.10 267.43L350.43 263.17L350.76 259.05L351.09 255.07L351.42 251.21L351.75 247.50L352.08 243.91L352.41 240.47L352.74 237.15L353.07 233.97L353.40 230.93L353.73 228.02L354.06 225.24L354.39 222.60L354.72 220.10L355.05 217.73L355.38 215.49L355.71 213.39L356.04 211.42L356.37 209.59L356.70 207.89L357.03 206.32L357.36 204.89L357.69 203.60L358.02 202.44L358.35 201.41L358.68 200.52L359.01 199.76L359.34 199.14L359.67 198.66L360.00 198.30L360.33 198.08L360.66 198.00L360.70 198.00L360.99 198.10L361.32 198.46L361.65 199.07L361.98 199.95L362.31 201.09L362.64 202.48L362.97 204.14L363.30 206.05L363.63 208.23L363.96 210.66L364.29 213.35L364.62 216.30L364.95 219.51L365.28 222.99L365.61 226.72L365.94 230.71L366.27 234.95L366.60 239.46L366.93 244.23L367.26 249.26L367.59 254.54L367.92 260.09L368.20 265.00L368.25 264.13L368.58 258.49L368.91 253.02L369.24 247.74L369.57 242.63L369.90 237.71L370.23 232.96L370.56 228.40L370.89 224.01L371.22 219.80L371.55 215.77L371.88 211.92L372.21 208.25L372.54 204.76L372.87 201.45L373.20 198.32L373.53 195.36L373.86 192.59L374.19 190.00L374.52 187.58L374.85 185.34L375.18 183.29L375.51 181.41L375.84 179.71L376.17 178.19L376.50 176.85L376.83 175.69L377.16 174.71L377.49 173.91L377.82 173.29L378.15 172.85L378.48 172.58L378.80 172.50L378.81 172.50L379.14 172.58L379.47 172.80L379.80 173.17L380.13 173.69L380.46 174.35L380.79 175.16L381.12 176.12L381.45 177.22L381.78 178.47L382.11 179.87L382.44 181.41L382.77 183.10L383.10 184.94L383.43 186.92L383.76 189.05L384.09 191.33L384.42 193.75L384.75 196.32L385.08 199.03L385.41 201.90L385.74 204.91L386.07 208.06L386.40 211.36L386.73 214.81L387.06 218.40L387.39 222.15L387.72 226.03L388.05 230.07L388.38 234.25L388.71 238.58L389.00 242.50L389.04 241.89L389.37 236.92L389.70 232.12L390.03 227.49L390.36 223.03L390.69 218.74L391.02 214.61L391.35 210.66L391.68 206.88L392.01 203.26L392.34 199.81L392.67 196.54L393.00 193.43L393.33 190.49L393.66 187.72L393.99 185.12L394.32 182.69L394.65 180.42L394.98 178.33L395.31 176.41L395.64 174.65L395.97 173.07L396.30 171.65L396.63 170.40L396.96 169.32L397.29 168.41L397.62 167.67L397.95 167.10L398.28 166.70L398.61 166.47L398.90 166.40L398.94 166.40L399.27 166.50L399.60 166.74L399.93 167.14L400.26 167.68L400.59 168.38L400.92 169.23L401.25 170.24L401.58 171.39L401.91 172.69L402.24 174.15L402.57 175.75L402.90 177.51L403.23 179.42L403.56 181.48L403.89 183.69L404.22 186.05L404.55 188.57L404.88 191.23L405.21 194.05L405.54 197.02L405.87 200.14L406.20 203.41L406.53 206.83L406.86 210.40L407.19 214.13L407.52 218.00L407.85 222.03L408.18 226.20L408.50 230.40L408.51 230.27L408.84 225.96L409.17 221.83L409.50 217.88L409.83 214.12L410.16 210.54L410.49 207.14L410.82 203.92L411.15 200.88L411.48 198.03L411.81 195.35L412.14 192.86L412.47 190.55L412.80 188.42L413.13 186.48L413.46 184.71L413.79 183.13L414.12 181.73L414.45 180.51L414.78 179.47L415.11 178.61L415.44 177.94L415.77 177.44L416.10 177.13L416.43 177.00L416.50 177.00L416.76 177.05L417.09 177.28L417.42 177.68L417.75 178.26L418.08 179.02L418.41 179.95L418.74 181.06L419.07 182.34L419.40 183.80L419.73 185.44L420.06 187.25L420.39 189.24L420.72 191.40L421.05 193.75L421.38 196.26L421.71 198.96L422.04 201.83L422.37 204.87L422.70 208.09L423.03 211.49L423.36 215.06L423.69 218.82L424.02 222.74L424.35 226.84L424.68 231.12L425.01 235.58L425.34 240.21L425.67 245.02L426.00 250.00L426.00 250.00L426.33 246.85L426.66 243.82L426.99 240.90L427.32 238.09L427.65 235.40L427.98 232.83L428.31 230.37L428.64 228.03L428.97 225.80L429.30 223.68L429.63 221.68L429.96 219.80L430.29 218.03L430.62 216.38L430.95 214.84L431.28 213.42L431.61 212.11L431.94 210.91L432.27 209.83L432.60 208.87L432.93 208.02L433.26 207.29L433.59 206.67L433.92 206.17L434.25 205.78L434.58 205.50L434.91 205.34L435.20 205.30L435.24 205.30L435.57 205.59L435.90 206.33L436.23 207.46L436.56 208.96L436.89 210.78L437.22 212.89L437.55 215.25L437.88 217.82L438.21 220.57L438.54 223.45L438.87 226.42L439.20 229.46L439.53 232.51L439.80 235.00L439.86 235.57L440.19 239.18L440.52 243.51L440.85 248.39L441.18 253.64L441.51 259.07L441.84 264.52L442.17 269.80L442.50 274.73L442.83 279.15L442.90 280.00L443.16 283.26L443.49 287.66L443.82 291.99L444.15 295.91L444.48 299.09L444.81 301.24L445.00 301.89L445.14 302.19L445.47 302.85L445.80 303.45L446.13 304.00L446.46 304.50L446.79 304.98L447.12 305.42L447.45 305.81L447.78 306.14L448.11 306.44L448.44 306.70L448.77 306.89L449.10 307.01L449.43 307.11L449.76 307.19L450.00 307.25L450.09 307.27L450.42 307.34L450.75 307.41L451.08 307.49L451.41 307.57L451.74 307.64L453.00 308.10L454.10 308.32L455.20 308.33L456.30 308.85L457.40 309.14L458.50 309.34L459.60 309.60L460.70 309.54L461.80 309.34L462.90 309.53L464.00 309.55L465.10 309.48L466.20 309.95L467.30 310.11L468.40 309.78L469.50 310.32L470.60 310.33L471.70 310.47L472.80 310.32L473.90 310.53L475.00 310.41L476.10 310.50L477.20 310.64L478.30 310.55L479.40 310.33L480.50 310.76L481.60 311.10L482.70 311.31L483.80 311.37L484.90 311.16L486.00 310.57L487.10 310.77L488.20 311.05L489.30 311.25L490.40 311.12L491.50 311.31L492.60 311.39L493.70 311.32L494.80 311.39L495.90 311.62L497.00 311.52L498.10 311.32L499.20 311.55L500.30 311.47L501.40 311.34L502.50 311.43L503.60 311.63L504.70 311.88L505.80 311.76L506.90 311.88L508.00 312.06L509.10 311.87L510.20 311.69L511.30 311.56L512.40 311.55L513.50 311.39L514.60 311.47L515.70 311.57L516.80 311.50L517.90 311.22L519.00 311.45L520.10 311.51L521.20 311.41L522.30 311.43L523.40 311.49L524.50 311.18L525.60 311.43L526.70 311.48L527.80 311.58L528.90 311.44L530.00 311.74L531.10 311.76L532.20 311.99L533.30 312.08L534.40 312.29L535.50 311.98L536.60 312.35L537.70 312.03L538.80 311.85L539.90 311.83L541.00 312.05L542.10 311.63L543.20 311.33L544.30 311.32L545.40 311.69L546.50 312.02L547.60 312.35L548.70 312.59L549.80 312.63L550.90 312.13L552.00 312.06L553.10 312.03L554.20 312.13L555.30 312.23L556.40 311.95L557.50 311.77L558.60 311.85L559.70 312.34L560.80 312.50L561.90 312.62L563.00 312.23L564.10 312.39L565.20 312.44L566.30 312.77L567.40 312.67L568.50 312.73L569.60 312.39L570.70 312.26L571.80 312.26L572.90 312.05L574.00 311.68L575.10 311.95L576.20 312.36L577.30 312.37L578.40 312.73L579.50 313.04L580.60 312.74L581.70 312.35L582.80 312.61L583.90 312.70L585.00 312.72L586.10 312.93L587.20 313.04L588.30 312.83L589.40 312.65L590.50 312.83L591.60 312.42L592.70 312.46L593.80 312.60L594.90 312.80L596.00 312.56L597.10 312.35L598.20 312.34L599.30 312.58L600.40 312.39L601.50 312.39L602.60 312.70L603.70 312.73L604.80 312.65L605.90 312.59L607.00 312.83L608.10 312.31L609.20 312.73L610.30 313.07L611.40 313.55L612.50 313.14L613.60 313.21L614.70 313.31L615.80 313.11L616.90 313.02L618.00 313.34L619.10 313.50L620.20 313.41L621.30 313.47L622.40 313.26L623.50 312.97L624.60 313.28L625.70 313.45L626.80 313.28L627.90 313.18L629.00 313.42L630.10 313.48L631.20 313.50L632.30 313.21L633.40 313.10L634.50 313.00L635.60 313.21L636.70 313.61L637.80 313.57L638.90 313.34L640.00 313.25L641.10 313.66L642.20 313.47L643.30 313.61L644.40 313.85L645.50 314.02L646.60 313.85L647.70 313.79L648.00 314.03" stroke="#9467bd"/>
<path d="M90.00 312.42L91.10 312.37L92.20 312.05L93.30 312.52L94.40 312.87L95.50 313.16L96.60 313.00L97.70 313.29L98.80 312.64L99.90 312.52L101.00 312.74L102.10 312.84L103.20 312.04L104.30 312.64L105.40 312.82L106.50 312.32L107.60 311.86L108.70 312.25L109.80 312.06L110.90 311.83L112.00 312.09L113.10 312.26L114.20 312.91L115.30 312.88L116.40 312.83L117.50 312.65L118.60 312.95L119.70 312.78L120.80 312.71L121.90 312.51L123.00 312.93L124.10 312.74L125.20 312.51L126.30 312.43L127.40 312.85L128.50 312.51L129.60 312.65L130.70 312.37L131.80 312.52L132.90 312.18L134.00 312.36L135.10 312.54L136.20 313.05L137.30 312.71L138.40 312.38L139.50 312.36L140.60 312.68L141.70 312.89L142.80 312.99L143.90 312.47L145.00 312.06L146.10 311.77L147.20 311.55L148.30 311.27L149.40 311.68L150.50 311.84L151.60 312.13L152.70 312.20L153.80 312.31L154.90 312.25L156.00 312.11L157.10 312.05L158.20 312.19L159.30 312.11L160.40 311.87L161.50 312.06L162.60 312.36L163.70 312.47L164.80 312.30L165.90 312.21L167.00 312.19L168.10 311.77L169.20 311.15L170.30 311.34L171.40 311.26L172.50 311.28L173.60 311.27L174.70 311.82L175.80 311.51L176.90 311.10L178.00 311.19L179.10 311.74L180.20 311.50L181.30 311.17L182.40 311.25L183.50 311.06L184.60 310.81L185.70 310.90L186.80 310.98L187.90 311.01L189.00 310.97L190.10 310.92L191.20 310.90L192.30 310.98L193.40 311.26L194.50 311.81L195.60 311.95L196.70 311.65L197.80 311.29L198.90 311.09L200.00 311.02L201.10 311.13L202.20 311.00L203.30 311.34L204.40 311.34L205.50 311.59L206.60 311.73L207.70 312.19L208.80 311.57L209.90 310.94L211.00 311.01L212.10 311.18L213.20 310.88L214.30 310.94L215.40 310.68L216.50 310.41L217.60 310.81L218.70 311.55L219.80 311.29L220.90 311.00L222.00 310.94L223.10 310.73L224.20 310.13L225.30 309.63L226.40 310.07L227.50 310.83L228.60 311.29L229.70 311.16L230.80 311.30L231.90 311.40L233.00 311.01L234.10 310.30L235.20 310.09L236.30 310.06L237.40 309.78L238.50 309.98L239.60 310.97L240.70 310.58L241.80 310.18L242.90 310.13L244.00 309.67L245.10 309.31L246.20 309.79L247.30 310.29L248.40 310.30L249.50 310.15L250.60 309.66L251.70 309.75L252.80 309.70L253.90 310.19L255.00 310.24L256.10 309.72L257.20 309.39L258.30 309.63L259.40 309.41L260.50 309.53L261.60 309.52L262.70 309.36L263.80 309.48L264.90 310.04L266.00 310.23L267.10 310.46L268.20 310.24L269.30 310.08L270.40 310.47L271.50 310.07L272.60 309.68L273.70 309.92L274.80 310.05L275.90 309.66L277.00 309.74L278.10 309.70L279.20 309.97L280.30 310.20L281.40 310.23L282.50 310.16L283.60 309.84L284.70 309.44L285.80 309.38L286.90 309.66L288.00 310.08L289.10 310.05L290.20 310.28L291.30 310.31L292.40 310.19L293.50 310.12L294.00 309.88L294.33 309.67L294.66 309.43L294.99 309.19L295.32 308.93L295.65 308.65L295.98 308.34L296.31 308.00L296.64 307.66L296.97 307.25L297.30 306.81L297.63 306.35L297.96 305.90L298.29 305.42L298.62 304.95L298.95 304.49L299.28 304.18L299.61 303.93L299.94 303.69L300.27 303.44L300.60 303.20L300.93 302.98L301.26 302.79L301.59 302.60L301.92 302.46L302.25 302.35L302.40 302.36L302.58 302.39L302.91 302.48L303.24 302.61L303.57 302.80L303.90 303.04L304.23 303.31L304.56 303.57L304.89 303.72L305.22 303.88L305.55 304.05L305.88 304.20L306.21 304.34L306.54 304.49L306.87 304.70L307.20 304.95L307.53 305.20L307.86 305.44L308.19 305.65L308.52 305.85L308.85 306.04L309.18 306.12L309.51 306.16L309.84 306.17L310.17 306.19L310.50 306.21L310.80 306.20L310.83 306.20L311.16 306.12L311.49 306.00L311.82 305.78L312.15 305.47L312.48 305.03L312.81 304.50L313.14 303.89L313.47 303.24L313.80 302.54L314.13 301.78L314.46 300.96L314.79 300.05L315.12 299.09L315.45 298.11L315.78 297.10L316.11 296.07L316.44 295.05L316.77 294.05L317.10 293.06L317.43 292.08L317.76 291.13L318.09 290.27L318.42 289.41L318.75 288.58L319.08 287.74L319.41 286.94L319.74 286.19L320.07 285.49L320.40 284.86L320.73 284.30L321.06 283.84L321.39 283.47L321.72 283.20L322.05 283.03L322.38 282.97L322.40 282.97L322.71 283.05L323.04 283.32L323.37 283.75L323.70 284.32L324.03 285.01L324.36 285.81L324.69 286.78L325.02 287.84L325.35 288.99L325.68 290.22L326.01 291.52L326.34 292.86L326.67 294.21L327.00 295.52L327.33 296.80L327.66 298.01L327.99 299.10L328.32 300.11L328.65 301.02L328.98 301.76L329.31 302.34L329.64 302.78L329.97 303.07L330.30 303.19L330.40 303.18L330.63 303.10L330.96 302.79L331.29 302.33L331.62 301.67L331.95 300.81L332.28 299.62L332.61 298.25L332.94 296.72L333.27 295.13L333.60 293.51L333.93 291.76L334.26 289.90L334.59 287.94L334.92 285.91L335.25 283.82L335.58 281.67L335.91 279.49L336.24 277.30L336.57 275.10L336.90 272.92L337.23 270.76L337.56 268.63L337.89 266.57L338.22 264.56L338.55 262.64L338.88 260.81L339.21 259.09L339.54 257.49L339.87 256.02L340.20 254.71L340.53 253.55L340.86 252.57L341.19 251.79L341.52 251.20L341.85 250.84L342.18 250.70L342.20 250.70L342.51 250.77L342.84 251.00L343.17 251.38L343.50 251.93L343.83 252.63L344.16 253.49L344.49 254.51L344.82 255.69L345.15 257.02L345.48 258.52L345.81 260.17L346.14 261.98L346.47 263.95L346.80 266.07L347.13 268.36L347.46 270.80L347.79 273.40L348.12 276.16L348.45 279.08L348.78 282.16L349.11 285.35L349.44 288.73L349.77 292.29L350.10 296.06L350.20 297.24L350.43 293.14L350.76 287.35L351.09 281.70L351.42 276.28L351.75 271.04L352.08 265.98L352.41 261.09L352.74 256.39L353.07 251.86L353.40 247.51L353.73 243.34L354.06 239.34L354.39 235.52L354.72 231.89L355.05 228.43L355.38 225.14L355.71 222.04L356.04 219.11L356.37 216.36L356.70 213.79L357.03 211.40L357.36 209.19L357.69 207.15L358.02 205.29L358.35 203.61L358.68 202.11L359.01 200.79L359.34 199.64L359.67 198.67L360.00 197.88L360.33 197.27L360.66 196.83L360.99 196.58L361.30 196.50L361.32 196.50L361.65 196.61L361.98 196.90L362.31 197.38L362.64 198.05L362.97 198.90L363.30 199.95L363.63 201.18L363.96 202.59L364.29 204.20L364.62 205.99L364.95 207.98L365.28 210.14L365.61 212.50L365.94 215.04L366.27 217.78L366.60 220.70L366.93 223.80L367.26 227.10L367.59 230.58L367.92 234.25L368.25 238.11L368.58 242.15L368.91 246.38L369.24 250.80L369.57 255.41L369.90 260.21L370.23 265.19L370.56 270.36L370.60 271.00L370.89 266.52L371.22 261.54L371.55 256.71L371.88 252.01L372.21 247.45L372.54 243.02L372.87 238.74L373.20 234.59L373.53 230.58L373.86 226.70L374.19 222.96L374.52 219.36L374.85 215.90L375.18 212.58L375.51 209.39L375.84 206.34L376.17 203.43L376.50 200.65L376.83 198.02L377.16 195.52L377.49 193.15L377.82 190.93L378.15 188.84L378.48 186.89L378.81 185.08L379.14 183.40L379.47 181.86L379.80 180.46L380.13 179.20L380.46 178.07L380.79 177.08L381.12 176.23L381.45 175.52L381.78 174.94L382.11 174.50L382.44 174.20L382.77 174.03L383.00 174.00L383.10 174.01L383.43 174.21L383.76 174.67L384.09 175.37L384.42 176.33L384.75 177.54L385.08 179.01L385.41 180.72L385.74 182.69L386.07 184.90L386.40 187.38L386.73 190.10L387.06 193.07L387.39 196.30L387.72 199.78L388.05 203.51L388.38 207.49L388.71 211.72L389.04 216.21L389.37 220.95L389.70 225.94L390.03 231.18L390.36 236.68L390.69 242.42L391.02 248.42L391.35 254.67L391.68 261.17L391.80 263.60L392.01 259.70L392.34 253.75L392.67 247.99L393.00 242.43L393.33 237.07L393.66 231.91L393.99 226.96L394.32 222.20L394.65 217.64L394.98 213.28L395.31 209.13L395.64 205.17L395.97 201.41L396.30 197.85L396.63 194.50L396.96 191.34L397.29 188.38L397.62 185.63L397.95 183.07L398.28 180.72L398.61 178.56L398.94 176.60L399.27 174.85L399.60 173.29L399.93 171.94L400.26 170.78L400.59 169.83L400.92 169.07L401.25 168.52L401.58 168.16L401.91 168.01L402.00 168.00L402.24 168.06L402.57 168.32L402.90 168.80L403.23 169.49L403.56 170.40L403.89 171.52L404.22 172.86L404.55 174.41L404.88 176.17L405.21 178.15L405.54 180.35L405.87 182.76L406.20 185.38L406.53 188.22L406.86 191.27L407.19 194.54L407.52 198.02L407.85 201.72L408.18 205.63L408.51 209.76L408.84 214.10L409.17 218.65L409.50 223.42L409.83 228.41L410.16 233.61L410.49 239.02L410.80 244.30L410.82 244.01L411.15 239.28L411.48 234.71L411.81 230.30L412.14 226.06L412.47 221.98L412.80 218.06L413.13 214.30L413.46 210.71L413.79 207.27L414.12 204.00L414.45 200.90L414.78 197.95L415.11 195.17L415.44 192.55L415.77 190.09L416.10 187.80L416.43 185.66L416.76 183.69L417.09 181.88L417.42 180.24L417.75 178.76L418.08 177.43L418.41 176.28L418.74 175.28L419.07 174.45L419.40 173.77L419.73 173.26L420.06 172.92L420.39 172.73L420.60 172.70L420.72 172.72L421.05 172.94L421.38 173.41L421.71 174.14L422.04 175.12L422.37 176.35L422.70 177.84L423.03 179.58L423.36 181.58L423.69 183.83L424.02 186.33L424.35 189.09L424.68 192.10L425.01 195.36L425.34 198.88L425.67 202.65L426.00 206.68L426.33 210.96L426.66 215.49L426.99 220.28L427.32 225.32L427.65 230.62L427.98 236.17L428.31 241.97L428.64 248.03L428.97 254.34L429.30 260.90L429.63 267.72L429.70 269.20L429.96 263.79L430.29 257.19L430.62 250.89L430.95 244.90L431.28 239.21L431.61 233.82L431.94 228.74L432.27 223.96L432.60 219.49L432.93 215.32L433.26 211.45L433.59 207.88L433.92 204.62L434.25 201.66L434.58 199.01L434.91 196.66L435.24 194.61L435.57 192.87L435.90 191.43L436.23 190.30L436.56 189.46L436.89 188.93L437.22 188.71L437.30 188.70L437.55 188.83L437.88 189.38L438.21 190.35L438.54 191.70L438.87 193.41L439.20 195.46L439.53 197.82L439.86 200.46L440.19 203.37L440.52 206.50L440.85 209.85L441.18 213.38L441.51 217.07L441.84 220.89L442.17 224.82L442.50 228.83L442.83 232.89L443.00 235.00L443.16 237.22L443.49 243.08L443.82 250.16L444.15 257.89L444.48 265.67L444.81 272.92L445.14 279.05L445.20 280.00L445.47 284.28L445.80 289.58L446.13 294.42L446.46 298.25L446.79 300.63L446.80 300.68L447.12 302.03L447.45 303.27L447.78 304.32L448.11 305.24L448.44 306.03L448.77 306.71L449.10 307.28L449.43 307.77L449.76 308.16L450.00 308.33L450.09 308.39L450.42 308.58L450.75 308.75L451.08 308.82L451.41 308.87L451.74 308.90L453.00 308.83L454.10 309.35L455.20 309.70L456.30 310.39L457.40 311.26L458.50 311.51L459.60 311.33L460.70 311.40L461.80 311.66L462.90 311.68L464.00 312.07L465.10 311.19L466.20 310.93L467.30 311.07L468.40 311.49L469.50 311.82L470.60 311.96L471.70 311.83L472.80 311.87L473.90 312.13L475.00 312.32L476.10 312.79L477.20 313.26L478.30 313.65L479.40 313.48L480.50 313.42L481.60 312.93L482.70 312.41L483.80 312.29L484.90 312.30L486.00 312.14L487.10 312.33L488.20 312.82L489.30 312.74L490.40 312.85L491.50 313.26L492.60 313.53L493.70 313.54L494.80 313.53L495.90 313.73L497.00 313.52L498.10 313.89L499.20 313.72L500.30 313.39L501.40 313.35L502.50 313.70L503.60 313.89L504.70 313.57L505.80 313.34L506.90 313.46L508.00 313.42L509.10 313.29L510.20 312.71L511.30 312.93L512.40 312.73L513.50 312.70L514.60 312.81L515.70 313.00L516.80 312.92L517.90 313.09L519.00 313.75L520.10 313.74L521.20 313.54L522.30 313.51L523.40 313.78L524.50 313.85L525.60 313.56L526.70 313.69L527.80 313.93L528.90 313.98L530.00 313.60L531.10 313.54L532.20 313.51L533.30 313.40L534.40 312.94L535.50 312.98L536.60 313.14L537.70 313.51L538.80 313.71L539.90 313.87L541.00 313.16L542.10 313.25L543.20 313.47L544.30 313.72L545.40 313.68L546.50 314.08L547.60 313.96L548.70 313.86L549.80 313.67L550.90 313.36L552.00 313.67L553.10 313.95L554.20 314.11L555.30 314.14L556.40 314.00L557.50 313.55L558.60 313.11L559.70 313.04L560.80 313.33L561.90 313.43L563.00 313.69L564.10 314.36L565.20 314.48L566.30 314.18L567.40 314.55L568.50 314.51L569.60 314.38L570.70 314.54L571.80 314.72L572.90 314.61L574.00 314.51L575.10 314.33L576.20 313.99L577.30 314.42L578.40 314.45L579.50 314.03L580.60 313.66L581.70 313.96L582.80 314.32L583.90 314.30L585.00 314.31L586.10 314.52L587.20 314.84L588.30 314.37L589.40 313.81L590.50 313.68L591.60 313.56L592.70 313.80L593.80 314.26L594.90 314.54L596.00 314.63L597.10 314.60L598.20 314.54L599.30 314.22L600.40 314.12L601.50 314.34L602.60 314.19L603.70 314.45L604.80 314.71L605.90 314.58L607.00 314.84L608.10 314.88L609.20 314.77L610.30 315.16L611.40 315.69L612.50 315.57L613.60 315.46L614.70 315.49L615.80 315.28L616.90 315.18L618.00 315.04L619.10 315.15L620.20 314.83L621.30 315.25L622.40 315.38L623.50 315.45L624.60 315.18L625.70 315.51L626.80 315.08L627.90 314.77L629.00 314.37L630.10 314.68L631.20 314.98L632.30 315.47L633.40 315.81L634.50 315.90L635.60 315.66L636.70 315.92L637.80 315.87L638.90 315.57L640.00 315.60L641.10 315.66L642.20 315.01L643.30 314.88L644.40 315.34L645.50 315.76L646.60 316.01L647.70 316.39L648.00 316.18" stroke="#1f77b4"/>
<path d="M90.00 309.81L91.10 309.70L92.20 309.45L93.30 309.24L94.40 309.30L95.50 309.03L96.60 309.20L97.70 309.31L98.80 309.44L99.90 309.23L101.00 309.17L102.10 309.33L103.20 309.16L104.30 308.97L105.40 309.03L106.50 309.44L107.60 309.49L108.70 309.42L109.80 309.42L110.90 309.30L112.00 309.25L113.10 309.16L114.20 309.11L115.30 308.90L116.40 309.01L117.50 308.97L118.60 308.83L119.70 308.71L120.80 308.76L121.90 308.78L123.00 308.62L124.10 308.50L125.20 308.56L126.30 308.50L127.40 308.08L128.50 308.06L129.60 308.16L130.70 308.31L131.80 308.18L132.90 308.45L134.00 308.54L135.10 308.67L136.20 308.58L137.30 308.68L138.40 308.27L139.50 307.98L140.60 307.94L141.70 307.82L142.80 307.59L143.90 307.56L145.00 307.50L146.10 307.35L147.20 307.13L148.30 307.45L149.40 307.17L150.50 307.18L151.60 307.32L152.70 307.53L153.80 307.62L154.90 307.81L156.00 307.66L157.10 307.50L158.20 307.65L159.30 307.59L160.40 307.52L161.50 307.81L162.60 307.93L163.70 307.39L164.80 307.18L165.90 307.62L167.00 307.94L168.10 308.09L169.20 308.07L170.30 307.99L171.40 307.74L172.50 307.27L173.60 307.06L174.70 307.13L175.80 307.02L176.90 306.92L178.00 307.11L179.10 307.25L180.20 307.13L181.30 307.01L182.40 307.14L183.50 307.27L184.60 307.29L185.70 307.49L186.80 307.62L187.90 307.42L189.00 307.50L190.10 307.22L191.20 307.10L192.30 307.09L193.40 307.45L194.50 307.19L195.60 307.33L196.70 307.07L197.80 307.05L198.90 306.88L200.00 307.04L201.10 307.04L202.20 307.14L203.30 307.16L204.40 307.31L205.50 307.17L206.60 306.98L207.70 306.95L208.80 307.10L209.90 306.94L211.00 307.00L212.10 306.49L213.20 306.36L214.30 306.34L215.40 306.60L216.50 306.50L217.60 306.64L218.70 306.65L219.80 306.93L220.90 306.96L222.00 306.80L223.10 306.33L224.20 306.30L225.30 306.34L226.40 306.63L227.50 306.67L228.60 306.81L229.70 306.89L230.80 306.66L231.90 306.52L233.00 306.34L234.10 306.17L235.20 305.96L236.30 305.82L237.40 305.70L238.50 305.73L239.60 305.89L240.70 306.21L241.80 306.57L242.90 306.84L244.00 306.93L245.10 306.83L246.20 306.46L247.30 306.48L248.40 306.68L249.50 306.86L250.60 306.78L251.70 306.66L252.80 306.58L253.90 306.37L255.00 306.30L256.10 306.34L257.20 306.34L258.30 306.09L259.40 306.23L260.50 306.21L261.60 306.39L262.70 306.49L263.80 306.62L264.90 306.56L266.00 306.52L267.10 306.44L268.20 306.43L269.30 306.34L270.40 306.36L271.50 306.55L272.60 306.55L273.70 306.53L274.80 306.62L275.90 306.68L277.00 306.55L278.10 306.47L279.20 306.47L280.30 306.59L281.40 306.63L282.50 306.55L283.60 306.49L284.70 306.39L285.80 306.31L286.90 306.19L288.00 306.15L289.10 306.22L290.20 306.28L291.30 306.25L292.40 305.94L293.50 306.05L294.00 305.98L294.33 305.89L294.66 305.77L294.99 305.60L295.32 305.41L295.65 305.20L295.98 304.87L296.31 304.51L296.64 304.14L296.97 303.82L297.30 303.55L297.63 303.28L297.96 303.00L298.29 302.71L298.62 302.42L298.95 302.13L299.28 301.88L299.61 301.65L299.94 301.42L300.27 301.15L300.60 300.85L300.93 300.56L301.26 300.30L301.59 300.10L301.92 299.93L302.25 299.79L302.58 299.70L302.91 299.64L303.00 299.63L303.24 299.62L303.57 299.64L303.90 299.70L304.23 299.79L304.56 299.90L304.89 300.05L305.22 300.22L305.55 300.41L305.88 300.56L306.21 300.72L306.54 300.89L306.87 301.08L307.20 301.29L307.53 301.49L307.86 301.71L308.19 301.96L308.52 302.20L308.85 302.44L309.18 302.67L309.51 302.88L309.84 303.08L310.17 303.27L310.50 303.45L310.83 303.62L311.16 303.75L311.49 303.86L311.82 303.94L312.00 303.97L312.15 303.97L312.48 303.94L312.81 303.80L313.14 303.56L313.47 303.22L313.80 302.78L314.13 302.25L314.46 301.67L314.79 301.04L315.12 300.36L315.45 299.62L315.78 298.69L316.11 297.69L316.44 296.66L316.77 295.61L317.10 294.57L317.43 293.53L317.76 292.49L318.09 291.43L318.42 290.40L318.75 289.41L319.08 288.47L319.41 287.58L319.74 286.73L320.07 285.96L320.40 285.25L320.73 284.59L321.06 284.00L321.39 283.47L321.72 283.03L322.05 282.67L322.38 282.41L322.71 282.25L323.00 282.20L323.04 282.21L323.37 282.31L323.70 282.56L324.03 282.95L324.36 283.46L324.69 284.08L325.02 284.79L325.35 285.58L325.68 286.45L326.01 287.39L326.34 288.37L326.67 289.36L327.00 290.36L327.33 291.35L327.66 292.34L327.99 293.33L328.32 294.28L328.65 295.19L328.98 296.01L329.31 296.77L329.64 297.44L329.97 298.15L330.30 298.87L330.63 299.47L330.96 299.92L331.29 300.12L331.50 300.16L331.62 300.16L331.95 300.02L332.28 299.74L332.61 299.30L332.94 298.69L333.27 297.87L333.60 296.83L333.93 295.64L334.26 294.30L334.59 292.86L334.92 291.31L335.25 289.64L335.58 287.84L335.91 285.96L336.24 284.01L336.57 282.01L336.90 279.98L337.23 277.90L337.56 275.77L337.89 273.60L338.22 271.41L338.55 269.20L338.88 266.97L339.21 264.75L339.54 262.53L339.87 260.33L340.20 258.15L340.53 256.00L340.86 253.90L341.19 251.85L341.52 249.85L341.85 247.93L342.18 246.08L342.51 244.32L342.84 242.65L343.17 241.08L343.50 239.63L343.83 238.29L344.16 237.09L344.49 236.02L344.82 235.10L345.15 234.34L345.48 233.73L345.81 233.31L346.14 233.06L346.40 233.00L346.47 233.01L346.80 233.17L347.13 233.56L347.46 234.18L347.79 235.02L348.12 236.09L348.45 237.40L348.78 238.92L349.11 240.68L349.44 242.67L349.77 244.88L350.10 247.32L350.43 249.99L350.76 252.88L351.09 256.01L351.42 259.36L351.75 262.94L352.08 266.75L352.41 270.78L352.74 275.04L353.07 279.54L353.30 282.81L353.40 281.57L353.73 277.60L354.06 273.73L354.39 269.98L354.72 266.33L355.05 262.78L355.38 259.35L355.71 256.02L356.04 252.81L356.37 249.70L356.70 246.69L357.03 243.80L357.36 241.02L357.69 238.34L358.02 235.77L358.35 233.31L358.68 230.95L359.01 228.71L359.34 226.57L359.67 224.54L360.00 222.62L360.33 220.81L360.66 219.10L360.99 217.51L361.32 216.02L361.65 214.64L361.98 213.37L362.31 212.20L362.64 211.15L362.97 210.20L363.30 209.36L363.63 208.63L363.96 208.00L364.29 207.49L364.62 207.08L364.95 206.78L365.28 206.59L365.61 206.50L365.70 206.50L365.94 206.55L366.27 206.80L366.60 207.26L366.93 207.91L367.26 208.78L367.59 209.84L367.92 211.11L368.25 212.58L368.58 214.25L368.91 216.13L369.24 218.22L369.57 220.50L369.90 222.99L370.23 225.69L370.56 228.58L370.89 231.68L371.22 234.99L371.55 238.49L371.88 242.21L372.21 246.12L372.54 250.24L372.87 254.56L373.20 259.09L373.30 260.50L373.53 256.45L373.86 250.80L374.19 245.35L374.52 240.09L374.85 235.02L375.18 230.15L375.51 225.47L375.84 220.99L376.17 216.70L376.50 212.60L376.83 208.70L377.16 204.99L377.49 201.48L377.82 198.16L378.15 195.03L378.48 192.10L378.81 189.36L379.14 186.82L379.47 184.47L379.80 182.31L380.13 180.35L380.46 178.59L380.79 177.01L381.12 175.63L381.45 174.45L381.78 173.46L382.11 172.66L382.44 172.06L382.77 171.65L383.10 171.44L383.30 171.40L383.43 171.41L383.76 171.54L384.09 171.80L384.42 172.20L384.75 172.74L385.08 173.42L385.41 174.24L385.74 175.20L386.07 176.30L386.40 177.54L386.73 178.91L387.06 180.43L387.39 182.08L387.72 183.87L388.05 185.81L388.38 187.88L388.71 190.09L389.04 192.44L389.37 194.92L389.70 197.55L390.03 200.32L390.36 203.22L390.69 206.27L391.02 209.45L391.35 212.78L391.68 216.24L392.01 219.84L392.34 223.58L392.67 227.46L393.00 231.47L393.33 235.63L393.66 239.93L393.99 244.36L394.00 244.50L394.32 239.09L394.65 233.71L394.98 228.54L395.31 223.58L395.64 218.83L395.97 214.29L396.30 209.95L396.63 205.82L396.96 201.91L397.29 198.20L397.62 194.69L397.95 191.40L398.28 188.32L398.61 185.44L398.94 182.77L399.27 180.31L399.60 178.06L399.93 176.02L400.26 174.18L400.59 172.56L400.92 171.14L401.25 169.93L401.58 168.93L401.91 168.14L402.24 167.55L402.57 167.18L402.90 167.01L403.00 167.00L403.23 167.03L403.56 167.19L403.89 167.48L404.22 167.91L404.55 168.47L404.88 169.16L405.21 169.99L405.54 170.95L405.87 172.04L406.20 173.27L406.53 174.63L406.86 176.12L407.19 177.75L407.52 179.50L407.85 181.40L408.18 183.42L408.51 185.58L408.84 187.87L409.17 190.30L409.50 192.86L409.83 195.55L410.16 198.38L410.49 201.34L410.82 204.43L411.15 207.65L411.48 211.01L411.81 214.51L412.14 218.13L412.47 221.89L412.80 225.78L413.13 229.81L413.40 233.20L413.46 232.13L413.79 226.47L414.12 221.14L414.45 216.14L414.78 211.48L415.11 207.16L415.44 203.17L415.77 199.52L416.10 196.20L416.43 193.21L416.76 190.57L417.09 188.26L417.42 186.28L417.75 184.64L418.08 183.33L418.41 182.36L418.74 181.73L419.07 181.43L419.20 181.40L419.40 181.44L419.73 181.70L420.06 182.20L420.39 182.93L420.72 183.90L421.05 185.10L421.38 186.54L421.71 188.21L422.04 190.12L422.37 192.26L422.70 194.64L423.03 197.25L423.36 200.10L423.69 203.19L424.02 206.51L424.35 210.06L424.68 213.85L425.01 217.88L425.34 222.14L425.67 226.64L426.00 231.37L426.33 236.34L426.66 241.54L426.99 246.98L427.30 252.30L427.32 251.86L427.65 244.84L427.98 238.13L428.31 231.73L428.64 225.64L428.97 219.87L429.30 214.41L429.63 209.26L429.96 204.43L430.29 199.90L430.62 195.69L430.95 191.79L431.28 188.21L431.61 184.94L431.94 181.98L432.27 179.33L432.60 176.99L432.93 174.97L433.26 173.26L433.59 171.86L433.92 170.78L434.25 170.01L434.58 169.55L434.90 169.40L434.91 169.40L435.24 169.68L435.57 170.47L435.90 171.74L436.23 173.45L436.56 175.58L436.89 178.08L437.22 180.94L437.55 184.11L437.88 187.56L438.21 191.27L438.54 195.20L438.87 199.31L439.20 203.58L439.53 207.98L439.86 212.46L440.19 217.01L440.52 221.58L440.85 226.14L441.18 230.67L441.50 235.00L441.51 235.13L441.84 240.23L442.17 246.31L442.50 253.00L442.83 259.89L443.16 266.58L443.49 272.68L443.82 277.78L444.00 280.00L444.15 281.66L444.48 285.22L444.81 288.63L445.14 291.79L445.47 294.60L445.80 296.96L446.13 298.77L446.46 299.95L446.50 300.04L446.79 300.64L447.12 301.26L447.45 301.82L447.78 302.35L448.11 302.84L448.44 303.27L448.77 303.68L449.10 304.06L449.43 304.40L449.76 304.71L450.09 304.97L450.42 305.21L450.75 305.43L451.00 305.56L451.08 305.60L451.41 305.76L451.74 305.91L453.00 306.58L454.10 307.20L455.20 307.45L456.30 307.52L457.40 307.87L458.50 308.07L459.60 308.08L460.70 308.20L461.80 308.65L462.90 308.79L464.00 308.89L465.10 308.89L466.20 308.90L467.30 308.90L468.40 308.94L469.50 308.93L470.60 309.32L471.70 309.46L472.80 309.50L473.90 309.36L475.00 309.71L476.10 309.77L477.20 309.71L478.30 309.35L479.40 309.49L480.50 309.37L481.60 309.40L482.70 309.24L483.80 309.30L484.90 309.45L486.00 309.67L487.10 310.00L488.20 310.18L489.30 309.93L490.40 309.62L491.50 309.59L492.60 309.81L493.70 309.96L494.80 309.78L495.90 309.69L497.00 309.80L498.10 309.73L499.20 309.70L500.30 309.85L501.40 309.79L502.50 309.60L503.60 309.46L504.70 309.53L505.80 309.73L506.90 309.70L508.00 309.70L509.10 310.01L510.20 309.94L511.30 309.74L512.40 309.70L513.50 309.83L514.60 309.75L515.70 309.91L516.80 310.01L517.90 310.14L519.00 310.16L520.10 310.12L521.20 309.83L522.30 309.97L523.40 309.94L524.50 309.90L525.60 309.83L526.70 310.00L527.80 310.06L528.90 310.16L530.00 310.12L531.10 310.13L532.20 310.23L533.30 310.14L534.40 310.19L535.50 310.23L536.60 310.21L537.70 310.09L538.80 310.04L539.90 309.96L541.00 310.10L542.10 309.91L543.20 309.81L544.30 309.54L545.40 309.61L546.50 309.71L547.60 309.91L548.70 309.89L549.80 310.01L550.90 309.98L552.00 309.99L553.10 310.04L554.20 310.16L555.30 310.16L556.40 310.08L557.50 310.25L558.60 310.15L559.70 309.88L560.80 310.02L561.90 310.20L563.00 310.40L564.10 310.25L565.20 310.34L566.30 310.39L567.40 310.47L568.50 310.31L569.60 310.46L570.70 310.55L571.80 310.52L572.90 310.71L574.00 310.71L575.10 310.54L576.20 310.67L577.30 310.74L578.40 310.66L579.50 310.59L580.60 310.87L581.70 310.86L582.80 310.66L583.90 310.57L585.00 310.76L586.10 310.88L587.20 310.69L588.30 310.83L589.40 310.87L590.50 310.80L591.60 310.54L592.70 310.43L593.80 310.53L594.90 310.54L596.00 310.84L597.10 311.01L598.20 311.33L599.30 311.24L600.40 311.30L601.50 311.14L602.60 311.01L603.70 310.75L604.80 310.40L605.90 310.67L607.00 310.95L608.10 310.95L609.20 310.77L610.30 311.11L611.40 310.97L612.50 310.97L613.60 310.83L614.70 310.92L615.80 310.94L616.90 311.25L618.00 311.30L619.10 311.34L620.20 311.33L621.30 311.19L622.40 311.07L623.50 311.31L624.60 311.61L625.70 311.43L626.80 311.41L627.90 311.31L629.00 311.57L630.10 311.68L631.20 312.07L632.30 311.89L633.40 311.73L634.50 311.47L635.60 311.55L636.70 311.54L637.80 311.67L638.90 311.73L640.00 311.90L641.10 311.82L642.20 311.56L643.30 311.56L644.40 311.70L645.50 311.93L646.60 311.84L647.70 311.53L648.00 311.48" stroke="#17becf"/>
<path d="M90.00 307.63L91.10 307.57L92.20 307.61L93.30 307.36L94.40 307.17L95.50 307.25L96.60 307.47L97.70 307.55L98.80 307.48L99.90 307.38L101.00 307.31L102.10 307.34L103.20 307.57L104.30 307.64L105.40 307.60L106.50 307.56L107.60 307.47L108.70 307.15L109.80 307.01L110.90 306.96L112.00 306.87L113.10 306.83L114.20 306.98L115.30 307.13L116.40 306.92L117.50 307.04L118.60 307.21L119.70 307.32L120.80 306.90L121.90 306.97L123.00 306.94L124.10 306.85L125.20 306.74L126.30 306.83L127.40 306.86L128.50 307.05L129.60 306.95L130.70 306.87L131.80 306.76L132.90 306.48L134.00 306.36L135.10 306.42L136.20 306.66L137.30 306.63L138.40 306.65L139.50 306.69L140.60 306.71L141.70 306.54L142.80 306.27L143.90 306.30L145.00 306.34L146.10 306.37L147.20 306.14L148.30 306.08L149.40 306.01L150.50 306.06L151.60 306.00L152.70 305.94L153.80 305.83L154.90 305.85L156.00 305.99L157.10 306.03L158.20 306.02L159.30 305.97L160.40 306.01L161.50 305.91L162.60 305.78L163.70 305.72L164.80 305.67L165.90 305.55L167.00 305.45L168.10 305.42L169.20 305.72L170.30 305.96L171.40 305.78L172.50 305.53L173.60 305.60L174.70 305.47L175.80 305.39L176.90 305.54L178.00 305.45L179.10 305.36L180.20 305.44L181.30 305.38L182.40 305.29L183.50 305.41L184.60 305.51L185.70 305.31L186.80 305.31L187.90 305.35L189.00 305.34L190.10 305.34L191.20 305.31L192.30 305.18L193.40 305.23L194.50 305.28L195.60 305.25L196.70 305.07L197.80 305.10L198.90 305.23L200.00 305.07L201.10 305.25L202.20 305.57L203.30 305.31L204.40 305.18L205.50 305.24L206.60 304.96L207.70 304.85L208.80 305.14L209.90 305.02L211.00 304.86L212.10 304.84L213.20 304.97L214.30 304.85L215.40 305.09L216.50 305.34L217.60 305.29L218.70 305.08L219.80 305.38L220.90 305.29L222.00 305.10L223.10 305.11L224.20 305.26L225.30 305.19L226.40 305.11L227.50 304.97L228.60 304.84L229.70 304.89L230.80 304.90L231.90 305.15L233.00 304.92L234.10 304.78L235.20 304.72L236.30 304.78L237.40 304.71L238.50 304.86L239.60 304.75L240.70 304.38L241.80 304.19L242.90 304.28L244.00 304.12L245.10 304.32L246.20 304.49L247.30 304.47L248.40 304.32L249.50 304.38L250.60 304.26L251.70 304.37L252.80 304.54L253.90 304.44L255.00 304.40L256.10 304.44L257.20 304.42L258.30 304.20L259.40 304.31L260.50 304.36L261.60 304.50L262.70 304.27L263.80 304.46L264.90 304.43L266.00 304.37L267.10 304.08L268.20 304.08L269.30 304.06L270.40 304.11L271.50 304.16L272.60 304.32L273.70 304.39L274.80 304.34L275.90 304.29L277.00 304.46L278.10 304.32L279.20 303.88L280.30 303.65L281.40 303.75L282.50 303.85L283.60 303.95L284.70 304.31L285.80 304.45L286.90 304.24L288.00 303.99L289.10 303.90L290.20 303.78L291.30 303.64L292.40 303.79L293.50 303.64L294.00 303.50L294.33 303.37L294.66 303.21L294.99 303.08L295.32 302.92L295.65 302.74L295.98 302.51L296.31 302.26L296.64 301.99L296.97 301.71L297.30 301.39L297.63 301.08L297.96 300.76L298.29 300.46L298.62 300.15L298.95 299.86L299.28 299.54L299.61 299.22L299.94 298.93L300.27 298.58L300.60 298.18L300.93 297.81L301.26 297.49L301.59 297.35L301.92 297.24L302.25 297.17L302.58 297.05L302.91 296.95L303.00 296.94L303.24 296.90L303.57 296.93L303.90 297.02L304.23 297.16L304.56 297.32L304.89 297.50L305.22 297.71L305.55 297.93L305.88 298.25L306.21 298.60L306.54 298.95L306.87 299.28L307.20 299.58L307.53 299.89L307.86 300.19L308.19 300.50L308.52 300.80L308.85 301.09L309.18 301.34L309.51 301.57L309.84 301.78L310.17 301.95L310.50 302.08L310.83 302.18L311.16 302.25L311.49 302.35L311.82 302.40L311.90 302.41L312.15 302.38L312.48 302.15L312.81 301.76L313.14 301.25L313.47 300.66L313.80 300.01L314.13 299.25L314.46 298.41L314.79 297.45L315.12 296.43L315.45 295.36L315.78 294.32L316.11 293.24L316.44 292.13L316.77 290.98L317.10 289.80L317.43 288.62L317.76 287.47L318.09 286.36L318.42 285.27L318.75 284.23L319.08 283.22L319.41 282.29L319.74 281.45L320.07 280.70L320.40 280.05L320.73 279.50L321.06 279.08L321.39 278.78L321.72 278.62L321.90 278.60L322.05 278.61L322.38 278.73L322.71 278.96L323.04 279.31L323.37 279.74L323.70 280.27L324.03 280.88L324.36 281.57L324.69 282.32L325.02 283.13L325.35 283.98L325.68 284.88L326.01 285.80L326.34 286.74L326.67 287.69L327.00 288.62L327.33 289.55L327.66 290.46L327.99 291.38L328.32 292.28L328.65 293.13L328.98 293.94L329.31 294.69L329.64 295.38L329.97 295.99L330.30 296.50L330.63 296.93L330.96 297.27L331.29 297.54L331.62 297.70L331.80 297.74L331.95 297.72L332.28 297.47L332.61 296.96L332.94 296.21L333.27 295.20L333.60 293.96L333.93 292.52L334.26 290.92L334.59 289.16L334.92 287.26L335.25 285.23L335.58 283.09L335.91 280.81L336.24 278.42L336.57 275.94L336.90 273.41L337.23 270.81L337.56 268.19L337.89 265.54L338.22 262.88L338.55 260.23L338.88 257.61L339.21 255.02L339.54 252.48L339.87 250.01L340.20 247.62L340.53 245.33L340.86 243.15L341.19 241.09L341.52 239.18L341.85 237.42L342.18 235.84L342.51 234.43L342.84 233.23L343.17 232.25L343.50 231.49L343.83 230.98L344.16 230.73L344.30 230.70L344.49 230.74L344.82 231.00L345.15 231.49L345.48 232.23L345.81 233.20L346.14 234.42L346.47 235.87L346.80 237.56L347.13 239.49L347.46 241.66L347.79 244.07L348.12 246.72L348.45 249.61L348.78 252.73L349.11 256.10L349.44 259.70L349.77 263.55L350.10 267.63L350.43 271.95L350.76 276.51L351.09 281.31L351.42 286.40L351.60 289.29L351.75 286.47L352.08 280.43L352.41 274.65L352.74 269.07L353.07 263.69L353.40 258.52L353.73 253.54L354.06 248.77L354.39 244.20L354.72 239.83L355.05 235.67L355.38 231.70L355.71 227.94L356.04 224.38L356.37 221.02L356.70 217.86L357.03 214.90L357.36 212.15L357.69 209.60L358.02 207.25L358.35 205.10L358.68 203.15L359.01 201.40L359.34 199.86L359.67 198.52L360.00 197.38L360.33 196.44L360.66 195.70L360.99 195.17L361.32 194.83L361.65 194.70L361.70 194.70L361.98 194.74L362.31 194.89L362.64 195.14L362.97 195.50L363.30 195.98L363.63 196.56L363.96 197.25L364.29 198.04L364.62 198.95L364.95 199.96L365.28 201.09L365.61 202.32L365.94 203.66L366.27 205.11L366.60 206.67L366.93 208.33L367.26 210.11L367.59 211.99L367.92 213.98L368.25 216.08L368.58 218.29L368.91 220.61L369.24 223.03L369.57 225.57L369.90 228.21L370.23 230.96L370.56 233.82L370.89 236.79L371.22 239.87L371.55 243.05L371.88 246.34L372.21 249.75L372.54 253.26L372.70 255.00L372.87 252.30L373.20 247.17L373.53 242.20L373.86 237.39L374.19 232.74L374.52 228.25L374.85 223.92L375.18 219.75L375.51 215.75L375.84 211.90L376.17 208.21L376.50 204.68L376.83 201.32L377.16 198.11L377.49 195.06L377.82 192.18L378.15 189.45L378.48 186.88L378.81 184.48L379.14 182.23L379.47 180.15L379.80 178.22L380.13 176.46L380.46 174.85L380.79 173.41L381.12 172.12L381.45 171.00L381.78 170.04L382.11 169.23L382.44 168.59L382.77 168.11L383.10 167.78L383.43 167.62L383.60 167.60L383.76 167.62L384.09 167.76L384.42 168.05L384.75 168.48L385.08 169.06L385.41 169.79L385.74 170.66L386.07 171.68L386.40 172.84L386.73 174.15L387.06 175.61L387.39 177.21L387.72 178.95L388.05 180.84L388.38 182.88L388.71 185.06L389.04 187.39L389.37 189.86L389.70 192.48L390.03 195.25L390.36 198.16L390.69 201.22L391.02 204.42L391.35 207.77L391.68 211.26L392.01 214.90L392.34 218.68L392.67 222.61L393.00 226.69L393.33 230.91L393.66 235.28L393.99 239.79L394.32 244.45L394.40 245.60L394.65 241.02L394.98 235.19L395.31 229.58L395.64 224.21L395.97 219.07L396.30 214.16L396.63 209.49L396.96 205.04L397.29 200.84L397.62 196.86L397.95 193.11L398.28 189.60L398.61 186.32L398.94 183.27L399.27 180.46L399.60 177.88L399.93 175.53L400.26 173.41L400.59 171.53L400.92 169.87L401.25 168.45L401.58 167.27L401.91 166.31L402.24 165.59L402.57 165.10L402.90 164.84L403.10 164.80L403.23 164.82L403.56 165.00L403.89 165.40L404.22 166.00L404.55 166.82L404.88 167.84L405.21 169.07L405.54 170.51L405.87 172.16L406.20 174.02L406.53 176.09L406.86 178.36L407.19 180.85L407.52 183.54L407.85 186.45L408.18 189.56L408.51 192.88L408.84 196.41L409.17 200.15L409.50 204.10L409.83 208.26L410.16 212.62L410.49 217.20L410.82 221.98L411.15 226.98L411.48 232.18L411.81 237.59L412.00 240.80L412.14 238.49L412.47 233.21L412.80 228.14L413.13 223.28L413.46 218.64L413.79 214.22L414.12 210.01L414.45 206.02L414.78 202.24L415.11 198.68L415.44 195.34L415.77 192.21L416.10 189.29L416.43 186.59L416.76 184.11L417.09 181.84L417.42 179.78L417.75 177.95L418.08 176.32L418.41 174.92L418.74 173.73L419.07 172.75L419.40 171.99L419.73 171.44L420.06 171.11L420.39 171.00L420.40 171.00L420.72 171.13L421.05 171.54L421.38 172.23L421.71 173.20L422.04 174.44L422.37 175.97L422.70 177.77L423.03 179.86L423.36 182.22L423.69 184.86L424.02 187.78L424.35 190.98L424.68 194.45L425.01 198.21L425.34 202.24L425.67 206.56L426.00 211.15L426.33 216.02L426.66 221.17L426.99 226.60L427.32 232.31L427.65 238.30L427.98 244.56L428.31 251.11L428.64 257.93L428.70 259.20L428.97 254.53L429.30 249.00L429.63 243.66L429.96 238.51L430.29 233.56L430.62 228.80L430.95 224.23L431.28 219.85L431.61 215.67L431.94 211.68L432.27 207.89L432.60 204.28L432.93 200.87L433.26 197.65L433.59 194.63L433.92 191.80L434.25 189.16L434.58 186.71L434.91 184.46L435.24 182.40L435.57 180.53L435.90 178.86L436.23 177.37L436.56 176.09L436.89 174.99L437.22 174.09L437.55 173.38L437.88 172.86L438.21 172.53L438.54 172.40L438.60 172.40L438.87 172.48L439.20 172.79L439.53 173.33L439.86 174.10L440.19 175.09L440.52 176.29L440.85 177.70L441.18 179.32L441.51 181.13L441.84 183.13L442.17 185.32L442.50 187.69L442.80 190.00L442.83 190.26L443.16 195.24L443.49 203.25L443.82 212.97L444.15 223.05L444.48 232.18L444.60 235.00L444.81 239.68L445.14 247.10L445.47 254.44L445.80 261.47L446.13 267.99L446.46 273.78L446.79 278.63L446.90 280.00L447.12 282.59L447.45 286.36L447.78 289.83L448.11 292.88L448.44 295.36L448.77 297.14L449.00 297.91L449.10 298.14L449.43 298.86L449.76 299.49L450.09 300.02L450.42 300.49L450.75 300.89L451.08 301.26L451.41 301.59L451.74 301.88L453.00 302.67L454.10 303.43L455.20 304.23L456.30 304.82L457.40 305.36L458.50 305.87L459.60 306.12L460.70 306.28L461.80 306.28L462.90 306.25L464.00 306.42L465.10 306.64L466.20 306.64L467.30 306.53L468.40 306.52L469.50 306.58L470.60 306.66L471.70 306.76L472.80 307.04L473.90 307.37L475.00 307.56L476.10 307.52L477.20 307.59L478.30 307.71L479.40 307.72L480.50 307.58L481.60 307.69L482.70 307.66L483.80 307.57L484.90 307.55L486.00 307.79L487.10 307.85L488.20 308.05L489.30 308.09L490.40 307.72L491.50 307.67L492.60 307.72L493.70 307.87L494.80 307.83L495.90 308.00L497.00 307.92L498.10 308.10L499.20 308.14L500.30 308.20L501.40 308.25L502.50 308.22L503.60 308.24L504.70 308.24L505.80 308.36L506.90 308.15L508.00 308.22L509.10 308.38L510.20 308.65L511.30 308.55L512.40 308.74L513.50 308.78L514.60 308.66L515.70 308.56L516.80 308.58L517.90 308.49L519.00 308.39L520.10 308.43L521.20 308.34L522.30 308.07L523.40 307.98L524.50 308.04L525.60 308.19L526.70 308.04L527.80 308.04L528.90 308.03L530.00 308.02L531.10 308.08L532.20 308.17L533.30 308.21L534.40 308.35L535.50 308.35L536.60 308.25L537.70 308.32L538.80 308.24L539.90 308.10L541.00 308.10L542.10 308.13L543.20 308.27L544.30 308.33L545.40 308.71L546.50 308.86L547.60 308.59L548.70 308.21L549.80 308.57L550.90 308.67L552.00 308.48L553.10 308.24L554.20 308.19L555.30 308.12L556.40 308.22L557.50 308.19L558.60 308.42L559.70 308.64L560.80 308.87L561.90 308.73L563.00 308.89L564.10 308.70L565.20 308.70L566.30 308.59L567.40 308.94L568.50 308.95L569.60 309.18L570.70 308.98L571.80 308.75L572.90 308.41L574.00 308.38L575.10 308.30L576.20 308.43L577.30 308.61L578.40 308.74L579.50 308.77L580.60 308.86L581.70 308.98L582.80 309.05L583.90 309.34L585.00 309.33L586.10 309.16L587.20 309.01L588.30 309.01L589.40 308.81L590.50 308.82L591.60 309.15L592.70 309.56L593.80 309.74L594.90 309.87L596.00 309.92L597.10 309.94L598.20 309.76L599.30 309.78L600.40 309.72L601.50 309.92L602.60 309.85L603.70 309.77L604.80 309.63L605.90 309.78L607.00 309.72L608.10 309.56L609.20 309.57L610.30 309.69L611.40 309.76L612.50 309.74L613.60 309.69L614.70 309.49L615.80 309.75L616.90 309.87L618.00 309.90L619.10 309.76L620.20 309.92L621.30 309.98L622.40 310.09L623.50 310.34L624.60 310.39L625.70 310.15L626.80 309.99L627.90 310.01L629.00 309.81L630.10 309.73L631.20 309.65L632.30 309.87L633.40 310.11L634.50 310.45L635.60 310.75L636.70 310.72L637.80 310.66L638.90 310.67L640.00 310.73L641.10 310.31L642.20 310.42L643.30 310.37L644.40 310.62L645.50 310.28L646.60 310.39L647.70 310.35L648.00 310.38" stroke="#7f7f7f"/>
</g>
<rect x="90.5" y="52.5" width="558" height="326" fill="none" stroke="#cccccc" stroke-width="1"/>
<rect x="97.5" y="59.5" width="87" height="153" rx="3" ry="3" fill="#ffffff" fill-opacity="0.8" stroke="#cccccc" stroke-opacity="0.8" stroke-width="1"/>
<g font-family='"Liberation Sans", Arial, sans-serif' fill="#141414" stroke="#141414" stroke-width="0.12" stroke-linejoin="round" text-rendering="geometricPrecision">
<path d="M103 71H132" stroke="#bcbd22" stroke-width="1.5" stroke-linecap="round" fill="none"/>
<text transform="translate(143.00 75.75) scale(1 1.1)" letter-spacing="0.05" font-size="13.89">Ch. 1</text>
<path d="M103 92H132" stroke="#ff7f0e" stroke-width="1.5" stroke-linecap="round" fill="none"/>
<text transform="translate(143.00 96.75) scale(1 1.1)" letter-spacing="0.05" font-size="13.89">Ch. 2</text>
<path d="M103 113H132" stroke="#d62728" stroke-width="1.5" stroke-linecap="round" fill="none"/>
<text transform="translate(143.00 117.75) scale(1 1.1)" letter-spacing="0.05" font-size="13.89">Ch. 3</text>
<path d="M103 134H132" stroke="#9467bd" stroke-width="1.5" stroke-linecap="round" fill="none"/>
<text transform="translate(143.00 138.75) scale(1 1.1)" letter-spacing="0.05" font-size="13.89">Ch. 4</text>
<path d="M103 156H132" stroke="#1f77b4" stroke-width="1.5" stroke-linecap="round" fill="none"/>
<text transform="translate(143.00 160.75) scale(1 1.1)" letter-spacing="0.05" font-size="13.89">Ch. 5</text>
<path d="M103 177H132" stroke="#17becf" stroke-width="1.5" stroke-linecap="round" fill="none"/>
<text transform="translate(143.00 181.75) scale(1 1.1)" letter-spacing="0.05" font-size="13.89">Ch. 6</text>
<path d="M103 198H132" stroke="#7f7f7f" stroke-width="1.5" stroke-linecap="round" fill="none"/>
<text transform="translate(143.00 202.75) scale(1 1.1)" letter-spacing="0.05" font-size="13.89">Ch. 7</text>
<text transform="translate(164.53 391.80) scale(1 1.1)" text-anchor="middle" letter-spacing="-0.22" font-size="13.89">842</text>
<text transform="translate(239.05 391.80) scale(1 1.1)" text-anchor="middle" letter-spacing="-0.22" font-size="13.89">844</text>
<text transform="translate(313.56 391.80) scale(1 1.1)" text-anchor="middle" letter-spacing="-0.22" font-size="13.89">846</text>
<text transform="translate(388.07 391.80) scale(1 1.1)" text-anchor="middle" letter-spacing="-0.22" font-size="13.89">848</text>
<text transform="translate(462.58 391.80) scale(1 1.1)" text-anchor="middle" letter-spacing="-0.22" font-size="13.89">850</text>
<text transform="translate(537.09 391.80) scale(1 1.1)" text-anchor="middle" letter-spacing="-0.22" font-size="13.89">852</text>
<text transform="translate(611.61 391.80) scale(1 1.1)" text-anchor="middle" letter-spacing="-0.22" font-size="13.89">854</text>
<text transform="translate(86.10 353.75) scale(1 1.1)" text-anchor="end" letter-spacing="-0.25" font-size="13.89">−80</text>
<text transform="translate(86.10 294.45) scale(1 1.1)" text-anchor="end" letter-spacing="-0.25" font-size="13.89">−60</text>
<text transform="translate(86.10 235.15) scale(1 1.1)" text-anchor="end" letter-spacing="-0.25" font-size="13.89">−40</text>
<text transform="translate(86.10 175.84) scale(1 1.1)" text-anchor="end" letter-spacing="-0.25" font-size="13.89">−20</text>
<text transform="translate(86.10 116.54) scale(1 1.1)" text-anchor="end" letter-spacing="-0.25" font-size="13.89">0</text>
<text transform="translate(86.10 57.24) scale(1 1.1)" text-anchor="end" letter-spacing="-0.25" font-size="13.89">20</text>
<text transform="translate(0 45.80) scale(1 1.02)" stroke-width="0.08" fill="#1e1e1e" font-size="16.67"><tspan x="250.40" letter-spacing="0.52">D4589 </tspan><tspan x="307.00" letter-spacing="0.24">V20540 </tspan><tspan x="370.30" letter-spacing="0.46">Reception </tspan><tspan x="453.60" letter-spacing="0.9">Test</tspan></text>
<text transform="translate(0 411.70) scale(1 1.02)" stroke-width="0.08" fill="#1e1e1e" font-size="16.67"><tspan x="303.80" letter-spacing="0.39">Wavelength </tspan><tspan x="400.00" letter-spacing="0.4">[nm]</tspan></text>
<text transform="translate(54.00 0) rotate(-90) scale(1 1.02)" stroke-width="0.08" fill="#1e1e1e" font-size="16.67"><tspan x="-286.70" letter-spacing="0.32">Optical </tspan><tspan x="-228.30" letter-spacing="0.52">Power </tspan><tspan x="-175.20" letter-spacing="0.8">[dB]</tspan></text>
</g>
</svg>
</body>
</html>
